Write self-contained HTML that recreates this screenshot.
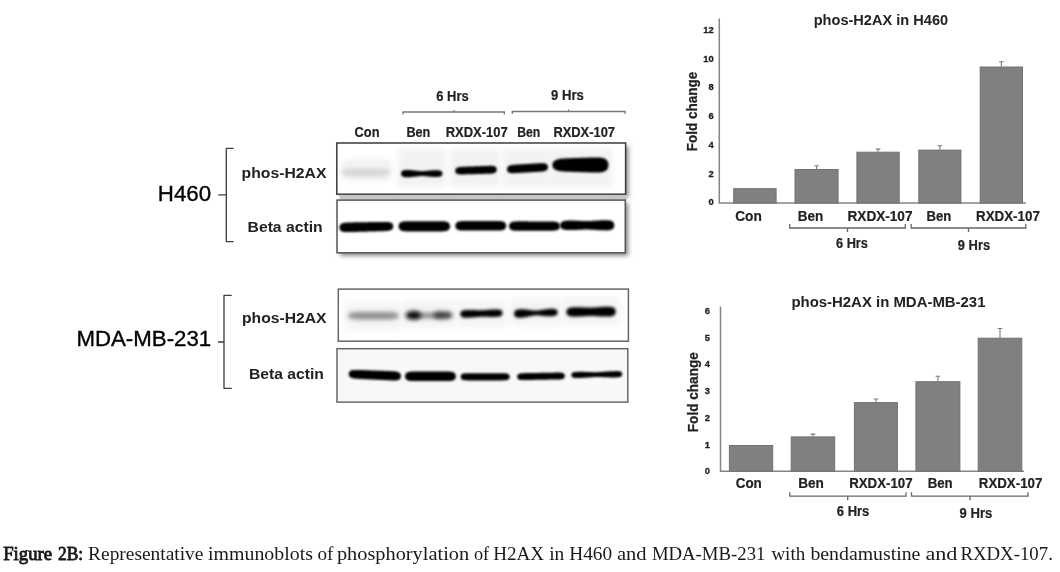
<!DOCTYPE html>
<html><head><meta charset="utf-8"><title>Figure 2B</title>
<style>
html,body{margin:0;padding:0;background:#fff;}
body{width:1060px;height:572px;overflow:hidden;position:relative;}
svg{position:absolute;left:0;top:0;opacity:0.999;filter:blur(0.35px);}
text{font-family:"Liberation Sans", sans-serif;}
.cap{position:absolute;left:4px;top:540px;white-space:nowrap;font-family:"Liberation Serif", serif;font-size:17.5px;color:#1a1a1a;}
</style></head><body>
<svg width="1060" height="572" viewBox="0 0 1060 572">
<text x="157.8" y="200.8" font-size="22.2" font-weight="normal" fill="#000" text-anchor="start" textLength="53.3" lengthAdjust="spacingAndGlyphs" stroke="#000" stroke-width="0.35">H460</text>
<text x="76.4" y="345.5" font-size="22.2" font-weight="normal" fill="#000" text-anchor="start" textLength="134.8" lengthAdjust="spacingAndGlyphs" stroke="#000" stroke-width="0.35">MDA-MB-231</text>
<path d="M233.60000000000002,148.3 H226.3 V241.6 H233.60000000000002 M218.3,194.8 H226.3" fill="none" stroke="#404040" stroke-width="1.35" stroke-linejoin="round"/>
<path d="M231.7,295.3 H224 V388.3 H231.7 M218,342 H224" fill="none" stroke="#404040" stroke-width="1.35" stroke-linejoin="round"/>
<text x="241.6" y="178.4" font-size="14.5" font-weight="bold" fill="#222" text-anchor="start" textLength="84.8" lengthAdjust="spacingAndGlyphs" >phos-H2AX</text>
<text x="247.6" y="231.6" font-size="14.5" font-weight="bold" fill="#222" text-anchor="start" textLength="75" lengthAdjust="spacingAndGlyphs" >Beta actin</text>
<text x="242" y="322.5" font-size="14.5" font-weight="bold" fill="#222" text-anchor="start" textLength="84.5" lengthAdjust="spacingAndGlyphs" >phos-H2AX</text>
<text x="249" y="378.6" font-size="14.5" font-weight="bold" fill="#222" text-anchor="start" textLength="74.8" lengthAdjust="spacingAndGlyphs" >Beta actin</text>
<text x="354.6" y="137.3" font-size="14" font-weight="bold" fill="#222" text-anchor="start" textLength="24.9" lengthAdjust="spacingAndGlyphs" stroke="#222" stroke-width="0.2">Con</text>
<text x="406.4" y="137.3" font-size="14" font-weight="bold" fill="#222" text-anchor="start" textLength="23.9" lengthAdjust="spacingAndGlyphs" stroke="#222" stroke-width="0.2">Ben</text>
<text x="445.7" y="137.3" font-size="14" font-weight="bold" fill="#222" text-anchor="start" textLength="62.1" lengthAdjust="spacingAndGlyphs" stroke="#222" stroke-width="0.2">RXDX-107</text>
<text x="517.2" y="137.3" font-size="14" font-weight="bold" fill="#222" text-anchor="start" textLength="23.1" lengthAdjust="spacingAndGlyphs" stroke="#222" stroke-width="0.2">Ben</text>
<text x="553.4" y="137.3" font-size="14" font-weight="bold" fill="#222" text-anchor="start" textLength="61.6" lengthAdjust="spacingAndGlyphs" stroke="#222" stroke-width="0.2">RXDX-107</text>
<text x="436.3" y="100.7" font-size="14" font-weight="bold" fill="#222" text-anchor="start" textLength="32.3" lengthAdjust="spacingAndGlyphs" stroke="#222" stroke-width="0.2">6 Hrs</text>
<text x="551.1" y="99.9" font-size="14" font-weight="bold" fill="#222" text-anchor="start" textLength="32.8" lengthAdjust="spacingAndGlyphs" stroke="#222" stroke-width="0.2">9 Hrs</text>
<path d="M403,114.5 V112 H504.3 V114.5 M454,112 V110" fill="none" stroke="#777" stroke-width="1.3"/>
<path d="M512.3,114.0 V111.5 H625.1 V114.0 M568.5,111.5 V109.5" fill="none" stroke="#777" stroke-width="1.3"/>
<defs>
<filter id="b1" x="-20%" y="-100%" width="140%" height="300%"><feGaussianBlur stdDeviation="1.1"/></filter>
<filter id="b15" x="-20%" y="-100%" width="140%" height="300%"><feGaussianBlur stdDeviation="1.5"/></filter>
<filter id="b2" x="-30%" y="-150%" width="160%" height="400%"><feGaussianBlur stdDeviation="2"/></filter>
<filter id="b05" x="-5%" y="-50%" width="110%" height="200%"><feGaussianBlur stdDeviation="0.5"/></filter>
<filter id="b3" x="-30%" y="-200%" width="160%" height="500%"><feGaussianBlur stdDeviation="3"/></filter>
<filter id="sh" x="-10%" y="-20%" width="130%" height="150%"><feGaussianBlur stdDeviation="2"/></filter>
</defs>
<rect x="339.8" y="146" width="288.8" height="51.19999999999999" fill="#8c8c8c" filter="url(#sh)"/>
<rect x="336.8" y="143" width="288.8" height="51.19999999999999" fill="#fff" stroke="#3a3a3a" stroke-width="1.5"/>
<rect x="398" y="149" width="48" height="38" fill="#f2f2f2" filter="url(#b3)"/>
<rect x="450" y="149" width="50" height="38" fill="#f2f2f2" filter="url(#b3)"/>
<rect x="503" y="149" width="48" height="38" fill="#f2f2f2" filter="url(#b3)"/>
<rect x="549" y="149" width="63" height="38" fill="#f2f2f2" filter="url(#b3)"/>
<rect x="342" y="159" width="50" height="22" rx="6" fill="#f3f3f3" filter="url(#b2)"/>
<path d="M341.4,172.30 L341.8,171.10 L342.2,170.63 L342.6,170.31 L343.0,170.05 L343.4,169.84 L343.8,169.66 L344.2,169.51 L344.6,169.38 L345.0,169.27 L345.4,169.18 L345.9,169.09 L346.3,169.02 L346.7,168.96 L347.1,168.90 L347.5,168.85 L347.9,168.81 L348.3,168.77 L348.7,168.74 L349.1,168.71 L349.5,168.69 L349.9,168.67 L350.3,168.65 L350.7,168.63 L351.1,168.62 L351.5,168.61 L351.9,168.60 L352.3,168.59 L352.7,168.58 L353.1,168.58 L353.5,168.57 L354.0,168.57 L354.4,168.56 L354.8,168.56 L355.2,168.56 L355.6,168.56 L356.0,168.55 L356.4,168.55 L356.8,168.55 L357.2,168.55 L357.6,168.55 L358.0,168.55 L358.4,168.55 L358.8,168.55 L359.2,168.55 L359.6,168.55 L360.0,168.55 L360.4,168.55 L360.8,168.55 L361.2,168.55 L361.6,168.55 L362.1,168.55 L362.5,168.55 L362.9,168.55 L363.3,168.55 L363.7,168.55 L364.1,168.55 L364.5,168.55 L364.9,168.55 L365.3,168.55 L365.7,168.55 L366.1,168.55 L366.5,168.55 L366.9,168.55 L367.3,168.55 L367.7,168.55 L368.1,168.55 L368.5,168.55 L368.9,168.55 L369.3,168.55 L369.8,168.55 L370.2,168.55 L370.6,168.55 L371.0,168.55 L371.4,168.55 L371.8,168.55 L372.2,168.55 L372.6,168.55 L373.0,168.55 L373.4,168.55 L373.8,168.55 L374.2,168.55 L374.6,168.55 L375.0,168.55 L375.4,168.55 L375.8,168.56 L376.2,168.56 L376.6,168.56 L377.0,168.56 L377.4,168.57 L377.9,168.57 L378.3,168.58 L378.7,168.58 L379.1,168.59 L379.5,168.60 L379.9,168.61 L380.3,168.62 L380.7,168.63 L381.1,168.65 L381.5,168.67 L381.9,168.69 L382.3,168.71 L382.7,168.74 L383.1,168.77 L383.5,168.81 L383.9,168.85 L384.3,168.90 L384.7,168.96 L385.1,169.02 L385.5,169.09 L385.9,169.18 L386.4,169.27 L386.8,169.38 L387.2,169.51 L387.6,169.66 L388.0,169.84 L388.4,170.05 L388.8,170.31 L389.2,170.63 L389.6,171.10 L390.0,172.30 L390.0,172.30 L389.6,173.50 L389.2,173.97 L388.8,174.29 L388.4,174.55 L388.0,174.76 L387.6,174.94 L387.2,175.09 L386.8,175.22 L386.4,175.33 L385.9,175.42 L385.5,175.51 L385.1,175.58 L384.7,175.64 L384.3,175.70 L383.9,175.75 L383.5,175.79 L383.1,175.83 L382.7,175.86 L382.3,175.89 L381.9,175.91 L381.5,175.93 L381.1,175.95 L380.7,175.97 L380.3,175.98 L379.9,175.99 L379.5,176.00 L379.1,176.01 L378.7,176.02 L378.3,176.02 L377.9,176.03 L377.4,176.03 L377.0,176.04 L376.6,176.04 L376.2,176.04 L375.8,176.04 L375.4,176.05 L375.0,176.05 L374.6,176.05 L374.2,176.05 L373.8,176.05 L373.4,176.05 L373.0,176.05 L372.6,176.05 L372.2,176.05 L371.8,176.05 L371.4,176.05 L371.0,176.05 L370.6,176.05 L370.2,176.05 L369.8,176.05 L369.3,176.05 L368.9,176.05 L368.5,176.05 L368.1,176.05 L367.7,176.05 L367.3,176.05 L366.9,176.05 L366.5,176.05 L366.1,176.05 L365.7,176.05 L365.3,176.05 L364.9,176.05 L364.5,176.05 L364.1,176.05 L363.7,176.05 L363.3,176.05 L362.9,176.05 L362.5,176.05 L362.1,176.05 L361.6,176.05 L361.2,176.05 L360.8,176.05 L360.4,176.05 L360.0,176.05 L359.6,176.05 L359.2,176.05 L358.8,176.05 L358.4,176.05 L358.0,176.05 L357.6,176.05 L357.2,176.05 L356.8,176.05 L356.4,176.05 L356.0,176.05 L355.6,176.04 L355.2,176.04 L354.8,176.04 L354.4,176.04 L354.0,176.03 L353.5,176.03 L353.1,176.02 L352.7,176.02 L352.3,176.01 L351.9,176.00 L351.5,175.99 L351.1,175.98 L350.7,175.97 L350.3,175.95 L349.9,175.93 L349.5,175.91 L349.1,175.89 L348.7,175.86 L348.3,175.83 L347.9,175.79 L347.5,175.75 L347.1,175.70 L346.7,175.64 L346.3,175.58 L345.9,175.51 L345.4,175.42 L345.0,175.33 L344.6,175.22 L344.2,175.09 L343.8,174.94 L343.4,174.76 L343.0,174.55 L342.6,174.29 L342.2,173.97 L341.8,173.50 L341.4,172.30Z" fill="#d6d6d6" filter="url(#b2)"/>
<path d="M401.0,173.60 L401.3,172.05 L401.7,171.49 L402.0,171.12 L402.4,170.85 L402.7,170.64 L403.1,170.48 L403.4,170.35 L403.8,170.25 L404.1,170.18 L404.5,170.11 L404.8,170.07 L405.1,170.03 L405.5,170.00 L405.8,169.98 L406.2,169.97 L406.5,169.96 L406.9,169.95 L407.2,169.95 L407.6,169.95 L407.9,169.96 L408.3,169.97 L408.6,169.98 L409.0,169.99 L409.3,170.01 L409.6,170.03 L410.0,170.04 L410.3,170.07 L410.7,170.09 L411.0,170.11 L411.4,170.14 L411.7,170.17 L412.1,170.20 L412.4,170.23 L412.8,170.27 L413.1,170.31 L413.4,170.34 L413.8,170.38 L414.1,170.42 L414.5,170.46 L414.8,170.51 L415.2,170.55 L415.5,170.60 L415.9,170.64 L416.2,170.68 L416.6,170.73 L416.9,170.77 L417.3,170.81 L417.6,170.86 L417.9,170.90 L418.3,170.93 L418.6,170.97 L419.0,171.00 L419.3,171.03 L419.7,171.06 L420.0,171.08 L420.4,171.11 L420.7,171.12 L421.1,171.14 L421.4,171.14 L421.8,171.15 L422.1,171.15 L422.4,171.15 L422.8,171.14 L423.1,171.13 L423.5,171.12 L423.8,171.10 L424.2,171.08 L424.5,171.06 L424.9,171.03 L425.2,171.00 L425.6,170.97 L425.9,170.94 L426.2,170.90 L426.6,170.86 L426.9,170.83 L427.3,170.79 L427.6,170.75 L428.0,170.72 L428.3,170.68 L428.7,170.64 L429.0,170.60 L429.4,170.57 L429.7,170.54 L430.1,170.50 L430.4,170.47 L430.7,170.44 L431.1,170.41 L431.4,170.39 L431.8,170.36 L432.1,170.34 L432.5,170.32 L432.8,170.30 L433.2,170.29 L433.5,170.27 L433.9,170.26 L434.2,170.25 L434.5,170.24 L434.9,170.23 L435.2,170.23 L435.6,170.23 L435.9,170.23 L436.3,170.23 L436.6,170.23 L437.0,170.24 L437.3,170.26 L437.7,170.28 L438.0,170.30 L438.4,170.33 L438.7,170.37 L439.0,170.42 L439.4,170.49 L439.7,170.56 L440.1,170.66 L440.4,170.78 L440.8,170.93 L441.1,171.12 L441.5,171.37 L441.8,171.71 L442.2,172.21 L442.5,173.60 L442.5,173.60 L442.2,174.99 L441.8,175.49 L441.5,175.83 L441.1,176.08 L440.8,176.27 L440.4,176.42 L440.1,176.54 L439.7,176.64 L439.4,176.71 L439.0,176.78 L438.7,176.83 L438.4,176.87 L438.0,176.90 L437.7,176.92 L437.3,176.94 L437.0,176.96 L436.6,176.97 L436.3,176.97 L435.9,176.97 L435.6,176.97 L435.2,176.97 L434.9,176.97 L434.5,176.96 L434.2,176.95 L433.9,176.94 L433.5,176.93 L433.2,176.91 L432.8,176.90 L432.5,176.88 L432.1,176.86 L431.8,176.84 L431.4,176.81 L431.1,176.79 L430.7,176.76 L430.4,176.73 L430.1,176.70 L429.7,176.66 L429.4,176.63 L429.0,176.60 L428.7,176.56 L428.3,176.52 L428.0,176.48 L427.6,176.45 L427.3,176.41 L426.9,176.37 L426.6,176.34 L426.2,176.30 L425.9,176.26 L425.6,176.23 L425.2,176.20 L424.9,176.17 L424.5,176.14 L424.2,176.12 L423.8,176.10 L423.5,176.08 L423.1,176.07 L422.8,176.06 L422.4,176.05 L422.1,176.05 L421.8,176.05 L421.4,176.06 L421.1,176.06 L420.7,176.08 L420.4,176.09 L420.0,176.12 L419.7,176.14 L419.3,176.17 L419.0,176.20 L418.6,176.23 L418.3,176.27 L417.9,176.30 L417.6,176.34 L417.3,176.39 L416.9,176.43 L416.6,176.47 L416.2,176.52 L415.9,176.56 L415.5,176.60 L415.2,176.65 L414.8,176.69 L414.5,176.74 L414.1,176.78 L413.8,176.82 L413.4,176.86 L413.1,176.89 L412.8,176.93 L412.4,176.97 L412.1,177.00 L411.7,177.03 L411.4,177.06 L411.0,177.09 L410.7,177.11 L410.3,177.13 L410.0,177.16 L409.6,177.17 L409.3,177.19 L409.0,177.21 L408.6,177.22 L408.3,177.23 L407.9,177.24 L407.6,177.25 L407.2,177.25 L406.9,177.25 L406.5,177.24 L406.2,177.23 L405.8,177.22 L405.5,177.20 L405.1,177.17 L404.8,177.13 L404.5,177.09 L404.1,177.02 L403.8,176.95 L403.4,176.85 L403.1,176.72 L402.7,176.56 L402.4,176.35 L402.0,176.08 L401.7,175.71 L401.3,175.15 L401.0,173.60Z" fill="#000" filter="url(#b1)"/>
<path d="M455.2,170.85 L455.5,169.32 L455.9,168.76 L456.2,168.37 L456.6,168.08 L456.9,167.86 L457.3,167.68 L457.6,167.53 L458.0,167.41 L458.3,167.31 L458.7,167.22 L459.0,167.15 L459.4,167.09 L459.7,167.04 L460.1,167.00 L460.4,166.96 L460.7,166.93 L461.1,166.90 L461.4,166.87 L461.8,166.85 L462.1,166.83 L462.5,166.81 L462.8,166.79 L463.2,166.78 L463.5,166.76 L463.9,166.74 L464.2,166.73 L464.6,166.72 L464.9,166.70 L465.3,166.69 L465.6,166.68 L465.9,166.66 L466.3,166.65 L466.6,166.64 L467.0,166.63 L467.3,166.61 L467.7,166.60 L468.0,166.59 L468.4,166.58 L468.7,166.56 L469.1,166.55 L469.4,166.54 L469.8,166.53 L470.1,166.51 L470.5,166.50 L470.8,166.49 L471.1,166.48 L471.5,166.46 L471.8,166.45 L472.2,166.44 L472.5,166.43 L472.9,166.41 L473.2,166.40 L473.6,166.39 L473.9,166.38 L474.3,166.36 L474.6,166.35 L475.0,166.34 L475.3,166.32 L475.7,166.31 L476.0,166.30 L476.3,166.29 L476.7,166.27 L477.0,166.26 L477.4,166.25 L477.7,166.24 L478.1,166.23 L478.4,166.21 L478.8,166.20 L479.1,166.19 L479.5,166.18 L479.8,166.16 L480.2,166.15 L480.5,166.14 L480.9,166.13 L481.2,166.11 L481.5,166.10 L481.9,166.09 L482.2,166.08 L482.6,166.06 L482.9,166.05 L483.3,166.04 L483.6,166.03 L484.0,166.01 L484.3,166.00 L484.7,165.99 L485.0,165.98 L485.4,165.96 L485.7,165.95 L486.1,165.94 L486.4,165.93 L486.7,165.91 L487.1,165.90 L487.4,165.89 L487.8,165.88 L488.1,165.87 L488.5,165.86 L488.8,165.85 L489.2,165.84 L489.5,165.84 L489.9,165.83 L490.2,165.83 L490.6,165.82 L490.9,165.83 L491.3,165.83 L491.6,165.84 L491.9,165.85 L492.3,165.87 L492.6,165.90 L493.0,165.94 L493.3,165.99 L493.7,166.05 L494.0,166.13 L494.4,166.23 L494.7,166.36 L495.1,166.52 L495.4,166.74 L495.8,167.01 L496.1,167.39 L496.5,167.96 L496.8,169.55 L496.8,169.55 L496.5,171.16 L496.1,171.75 L495.8,172.15 L495.4,172.45 L495.1,172.68 L494.7,172.87 L494.4,173.02 L494.0,173.14 L493.7,173.25 L493.3,173.33 L493.0,173.40 L492.6,173.46 L492.3,173.51 L491.9,173.55 L491.6,173.59 L491.3,173.62 L490.9,173.64 L490.6,173.67 L490.2,173.69 L489.9,173.70 L489.5,173.72 L489.2,173.73 L488.8,173.75 L488.5,173.76 L488.1,173.77 L487.8,173.78 L487.4,173.79 L487.1,173.80 L486.7,173.81 L486.4,173.82 L486.1,173.83 L485.7,173.84 L485.4,173.85 L485.0,173.86 L484.7,173.87 L484.3,173.88 L484.0,173.89 L483.6,173.90 L483.3,173.91 L482.9,173.92 L482.6,173.93 L482.2,173.93 L481.9,173.94 L481.5,173.95 L481.2,173.96 L480.9,173.97 L480.5,173.98 L480.2,173.99 L479.8,174.00 L479.5,174.01 L479.1,174.02 L478.8,174.03 L478.4,174.04 L478.1,174.04 L477.7,174.05 L477.4,174.06 L477.0,174.07 L476.7,174.08 L476.3,174.09 L476.0,174.10 L475.7,174.11 L475.3,174.12 L475.0,174.13 L474.6,174.14 L474.3,174.15 L473.9,174.15 L473.6,174.16 L473.2,174.17 L472.9,174.18 L472.5,174.19 L472.2,174.20 L471.8,174.21 L471.5,174.22 L471.1,174.23 L470.8,174.24 L470.5,174.25 L470.1,174.26 L469.8,174.26 L469.4,174.27 L469.1,174.28 L468.7,174.29 L468.4,174.30 L468.0,174.31 L467.7,174.32 L467.3,174.33 L467.0,174.34 L466.6,174.35 L466.3,174.36 L465.9,174.36 L465.6,174.37 L465.3,174.38 L464.9,174.39 L464.6,174.40 L464.2,174.41 L463.9,174.41 L463.5,174.42 L463.2,174.43 L462.8,174.43 L462.5,174.44 L462.1,174.44 L461.8,174.44 L461.4,174.44 L461.1,174.43 L460.7,174.43 L460.4,174.42 L460.1,174.40 L459.7,174.38 L459.4,174.35 L459.0,174.31 L458.7,174.26 L458.3,174.20 L458.0,174.12 L457.6,174.02 L457.3,173.89 L456.9,173.73 L456.6,173.53 L456.2,173.26 L455.9,172.90 L455.5,172.36 L455.2,170.85Z" fill="#000" filter="url(#b1)"/>
<path d="M507.0,169.35 L507.3,167.69 L507.7,167.07 L508.0,166.64 L508.4,166.31 L508.7,166.05 L509.1,165.84 L509.4,165.67 L509.7,165.52 L510.1,165.40 L510.4,165.29 L510.8,165.20 L511.1,165.12 L511.4,165.06 L511.8,165.00 L512.1,164.95 L512.5,164.90 L512.8,164.86 L513.1,164.82 L513.5,164.79 L513.8,164.76 L514.2,164.73 L514.5,164.70 L514.9,164.68 L515.2,164.66 L515.5,164.63 L515.9,164.61 L516.2,164.59 L516.6,164.57 L516.9,164.55 L517.2,164.53 L517.6,164.51 L517.9,164.49 L518.3,164.47 L518.6,164.45 L519.0,164.43 L519.3,164.41 L519.6,164.39 L520.0,164.37 L520.3,164.35 L520.7,164.33 L521.0,164.31 L521.4,164.30 L521.7,164.28 L522.0,164.26 L522.4,164.24 L522.7,164.22 L523.1,164.20 L523.4,164.18 L523.7,164.16 L524.1,164.14 L524.4,164.12 L524.8,164.10 L525.1,164.08 L525.5,164.07 L525.8,164.05 L526.1,164.03 L526.5,164.01 L526.8,163.99 L527.2,163.97 L527.5,163.95 L527.8,163.93 L528.2,163.91 L528.5,163.89 L528.9,163.87 L529.2,163.85 L529.5,163.84 L529.9,163.82 L530.2,163.80 L530.6,163.78 L530.9,163.76 L531.3,163.74 L531.6,163.72 L531.9,163.70 L532.3,163.68 L532.6,163.66 L533.0,163.64 L533.3,163.62 L533.6,163.61 L534.0,163.59 L534.3,163.57 L534.7,163.55 L535.0,163.53 L535.4,163.51 L535.7,163.49 L536.0,163.47 L536.4,163.45 L536.7,163.43 L537.1,163.41 L537.4,163.40 L537.8,163.38 L538.1,163.36 L538.4,163.34 L538.8,163.32 L539.1,163.31 L539.5,163.29 L539.8,163.28 L540.1,163.26 L540.5,163.25 L540.8,163.24 L541.2,163.23 L541.5,163.22 L541.9,163.21 L542.2,163.21 L542.5,163.21 L542.9,163.22 L543.2,163.24 L543.6,163.26 L543.9,163.28 L544.2,163.32 L544.6,163.37 L544.9,163.44 L545.3,163.53 L545.6,163.63 L546.0,163.77 L546.3,163.94 L546.6,164.16 L547.0,164.45 L547.3,164.84 L547.7,165.42 L548.0,167.05 L548.0,167.05 L547.7,168.71 L547.3,169.33 L547.0,169.76 L546.6,170.09 L546.3,170.35 L546.0,170.56 L545.6,170.73 L545.3,170.88 L544.9,171.00 L544.6,171.11 L544.2,171.20 L543.9,171.28 L543.6,171.34 L543.2,171.40 L542.9,171.45 L542.5,171.50 L542.2,171.54 L541.9,171.58 L541.5,171.61 L541.2,171.64 L540.8,171.67 L540.5,171.70 L540.1,171.72 L539.8,171.74 L539.5,171.77 L539.1,171.79 L538.8,171.81 L538.4,171.83 L538.1,171.85 L537.8,171.87 L537.4,171.89 L537.1,171.91 L536.7,171.93 L536.4,171.95 L536.0,171.97 L535.7,171.99 L535.4,172.01 L535.0,172.03 L534.7,172.05 L534.3,172.07 L534.0,172.09 L533.6,172.10 L533.3,172.12 L533.0,172.14 L532.6,172.16 L532.3,172.18 L531.9,172.20 L531.6,172.22 L531.3,172.24 L530.9,172.26 L530.6,172.28 L530.2,172.30 L529.9,172.32 L529.5,172.33 L529.2,172.35 L528.9,172.37 L528.5,172.39 L528.2,172.41 L527.8,172.43 L527.5,172.45 L527.2,172.47 L526.8,172.49 L526.5,172.51 L526.1,172.53 L525.8,172.55 L525.5,172.56 L525.1,172.58 L524.8,172.60 L524.4,172.62 L524.1,172.64 L523.7,172.66 L523.4,172.68 L523.1,172.70 L522.7,172.72 L522.4,172.74 L522.0,172.76 L521.7,172.78 L521.4,172.79 L521.0,172.81 L520.7,172.83 L520.3,172.85 L520.0,172.87 L519.6,172.89 L519.3,172.91 L519.0,172.93 L518.6,172.95 L518.3,172.97 L517.9,172.99 L517.6,173.00 L517.2,173.02 L516.9,173.04 L516.6,173.06 L516.2,173.08 L515.9,173.09 L515.5,173.11 L515.2,173.12 L514.9,173.14 L514.5,173.15 L514.2,173.16 L513.8,173.17 L513.5,173.18 L513.1,173.19 L512.8,173.19 L512.5,173.19 L512.1,173.18 L511.8,173.16 L511.4,173.14 L511.1,173.12 L510.8,173.08 L510.4,173.03 L510.1,172.96 L509.7,172.87 L509.4,172.77 L509.1,172.63 L508.7,172.46 L508.4,172.24 L508.0,171.95 L507.7,171.56 L507.3,170.98 L507.0,169.35Z" fill="#000" filter="url(#b1)"/>
<path d="M552.3,165.00 L552.8,162.91 L553.2,162.11 L553.7,161.54 L554.2,161.09 L554.6,160.72 L555.1,160.42 L555.6,160.16 L556.0,159.93 L556.5,159.74 L557.0,159.56 L557.5,159.42 L557.9,159.28 L558.4,159.17 L558.9,159.07 L559.3,158.98 L559.8,158.89 L560.3,158.82 L560.7,158.76 L561.2,158.70 L561.7,158.65 L562.1,158.60 L562.6,158.56 L563.1,158.53 L563.5,158.49 L564.0,158.46 L564.5,158.43 L564.9,158.41 L565.4,158.38 L565.9,158.36 L566.3,158.34 L566.8,158.32 L567.3,158.30 L567.8,158.28 L568.2,158.26 L568.7,158.25 L569.2,158.23 L569.6,158.21 L570.1,158.20 L570.6,158.18 L571.0,158.17 L571.5,158.15 L572.0,158.14 L572.4,158.12 L572.9,158.11 L573.4,158.09 L573.8,158.08 L574.3,158.06 L574.8,158.05 L575.2,158.04 L575.7,158.02 L576.2,158.01 L576.7,157.99 L577.1,157.98 L577.6,157.96 L578.1,157.95 L578.5,157.93 L579.0,157.92 L579.5,157.90 L579.9,157.89 L580.4,157.88 L580.9,157.86 L581.3,157.85 L581.8,157.83 L582.3,157.82 L582.7,157.80 L583.2,157.79 L583.7,157.77 L584.1,157.76 L584.6,157.74 L585.1,157.73 L585.6,157.71 L586.0,157.70 L586.5,157.69 L587.0,157.67 L587.4,157.66 L587.9,157.64 L588.4,157.63 L588.8,157.61 L589.3,157.60 L589.8,157.58 L590.2,157.57 L590.7,157.56 L591.2,157.54 L591.6,157.53 L592.1,157.52 L592.6,157.51 L593.0,157.50 L593.5,157.48 L594.0,157.47 L594.5,157.47 L594.9,157.46 L595.4,157.45 L595.9,157.45 L596.3,157.45 L596.8,157.45 L597.3,157.46 L597.7,157.46 L598.2,157.48 L598.7,157.50 L599.1,157.52 L599.6,157.55 L600.1,157.59 L600.5,157.63 L601.0,157.69 L601.5,157.75 L601.9,157.83 L602.4,157.93 L602.9,158.04 L603.3,158.17 L603.8,158.33 L604.3,158.51 L604.8,158.72 L605.2,158.98 L605.7,159.28 L606.2,159.64 L606.6,160.08 L607.1,160.62 L607.6,161.33 L608.0,162.34 L608.5,165.00 L608.5,165.00 L608.0,167.66 L607.6,168.67 L607.1,169.38 L606.6,169.92 L606.2,170.36 L605.7,170.72 L605.2,171.02 L604.8,171.28 L604.3,171.49 L603.8,171.67 L603.3,171.83 L602.9,171.96 L602.4,172.07 L601.9,172.17 L601.5,172.25 L601.0,172.31 L600.5,172.37 L600.1,172.41 L599.6,172.45 L599.1,172.48 L598.7,172.50 L598.2,172.52 L597.7,172.54 L597.3,172.54 L596.8,172.55 L596.3,172.55 L595.9,172.55 L595.4,172.55 L594.9,172.54 L594.5,172.53 L594.0,172.53 L593.5,172.52 L593.0,172.50 L592.6,172.49 L592.1,172.48 L591.6,172.47 L591.2,172.46 L590.7,172.44 L590.2,172.43 L589.8,172.42 L589.3,172.40 L588.8,172.39 L588.4,172.37 L587.9,172.36 L587.4,172.34 L587.0,172.33 L586.5,172.31 L586.0,172.30 L585.6,172.29 L585.1,172.27 L584.6,172.26 L584.1,172.24 L583.7,172.23 L583.2,172.21 L582.7,172.20 L582.3,172.18 L581.8,172.17 L581.3,172.15 L580.9,172.14 L580.4,172.12 L579.9,172.11 L579.5,172.10 L579.0,172.08 L578.5,172.07 L578.1,172.05 L577.6,172.04 L577.1,172.02 L576.7,172.01 L576.2,171.99 L575.7,171.98 L575.2,171.96 L574.8,171.95 L574.3,171.94 L573.8,171.92 L573.4,171.91 L572.9,171.89 L572.4,171.88 L572.0,171.86 L571.5,171.85 L571.0,171.83 L570.6,171.82 L570.1,171.80 L569.6,171.79 L569.2,171.77 L568.7,171.75 L568.2,171.74 L567.8,171.72 L567.3,171.70 L566.8,171.68 L566.3,171.66 L565.9,171.64 L565.4,171.62 L564.9,171.59 L564.5,171.57 L564.0,171.54 L563.5,171.51 L563.1,171.47 L562.6,171.44 L562.1,171.40 L561.7,171.35 L561.2,171.30 L560.7,171.24 L560.3,171.18 L559.8,171.11 L559.3,171.02 L558.9,170.93 L558.4,170.83 L557.9,170.72 L557.5,170.58 L557.0,170.44 L556.5,170.26 L556.0,170.07 L555.6,169.84 L555.1,169.58 L554.6,169.28 L554.2,168.91 L553.7,168.46 L553.2,167.89 L552.8,167.09 L552.3,165.00Z" fill="#000" filter="url(#b1)"/>
<rect x="340" y="194.9" width="287" height="4.6" fill="#c6c6c6" filter="url(#b05)"/>
<rect x="340" y="203.1" width="288.29999999999995" height="52.70000000000002" fill="#8c8c8c" filter="url(#sh)"/>
<rect x="337" y="200.1" width="288.29999999999995" height="52.70000000000002" fill="#fff" stroke="#555" stroke-width="1.5"/>
<path d="M339.4,227.50 L339.8,225.48 L340.3,224.75 L340.7,224.26 L341.2,223.89 L341.6,223.61 L342.1,223.39 L342.5,223.22 L343.0,223.07 L343.4,222.96 L343.9,222.86 L344.3,222.79 L344.8,222.72 L345.2,222.67 L345.7,222.63 L346.1,222.59 L346.6,222.56 L347.0,222.54 L347.5,222.51 L347.9,222.49 L348.4,222.48 L348.8,222.46 L349.3,222.45 L349.7,222.44 L350.2,222.43 L350.6,222.42 L351.1,222.41 L351.5,222.40 L352.0,222.39 L352.4,222.38 L352.9,222.38 L353.3,222.37 L353.8,222.36 L354.2,222.35 L354.7,222.35 L355.1,222.34 L355.6,222.33 L356.0,222.32 L356.5,222.32 L356.9,222.31 L357.4,222.30 L357.8,222.29 L358.3,222.29 L358.7,222.28 L359.2,222.27 L359.6,222.26 L360.1,222.26 L360.5,222.25 L361.0,222.24 L361.4,222.23 L361.9,222.23 L362.3,222.22 L362.8,222.21 L363.2,222.20 L363.7,222.20 L364.1,222.19 L364.6,222.18 L365.0,222.17 L365.5,222.17 L365.9,222.16 L366.4,222.15 L366.8,222.14 L367.2,222.13 L367.7,222.13 L368.1,222.12 L368.6,222.11 L369.0,222.11 L369.5,222.10 L369.9,222.09 L370.4,222.08 L370.8,222.08 L371.3,222.07 L371.7,222.06 L372.2,222.05 L372.6,222.05 L373.1,222.04 L373.5,222.03 L374.0,222.02 L374.4,222.02 L374.9,222.01 L375.3,222.00 L375.8,221.99 L376.2,221.99 L376.7,221.98 L377.1,221.97 L377.6,221.96 L378.0,221.96 L378.5,221.95 L378.9,221.94 L379.4,221.93 L379.8,221.93 L380.3,221.92 L380.7,221.91 L381.2,221.91 L381.6,221.90 L382.1,221.89 L382.5,221.89 L383.0,221.88 L383.4,221.88 L383.9,221.88 L384.3,221.88 L384.8,221.88 L385.2,221.88 L385.7,221.89 L386.1,221.90 L386.6,221.91 L387.0,221.93 L387.5,221.96 L387.9,221.99 L388.4,222.04 L388.8,222.10 L389.3,222.17 L389.7,222.27 L390.2,222.39 L390.6,222.54 L391.1,222.73 L391.5,222.98 L392.0,223.30 L392.4,223.75 L392.9,224.42 L393.3,226.30 L393.3,226.30 L392.9,228.20 L392.4,228.89 L392.0,229.36 L391.5,229.70 L391.1,229.97 L390.6,230.18 L390.2,230.35 L389.7,230.49 L389.3,230.61 L388.8,230.70 L388.4,230.78 L387.9,230.85 L387.5,230.90 L387.0,230.95 L386.6,230.99 L386.1,231.02 L385.7,231.05 L385.2,231.08 L384.8,231.10 L384.3,231.12 L383.9,231.14 L383.4,231.16 L383.0,231.18 L382.5,231.19 L382.1,231.21 L381.6,231.22 L381.2,231.23 L380.7,231.25 L380.3,231.26 L379.8,231.27 L379.4,231.29 L378.9,231.30 L378.5,231.31 L378.0,231.32 L377.6,231.34 L377.1,231.35 L376.7,231.36 L376.2,231.37 L375.8,231.39 L375.3,231.40 L374.9,231.41 L374.4,231.42 L374.0,231.44 L373.5,231.45 L373.1,231.46 L372.6,231.47 L372.2,231.49 L371.7,231.50 L371.3,231.51 L370.8,231.52 L370.4,231.54 L369.9,231.55 L369.5,231.56 L369.0,231.57 L368.6,231.59 L368.1,231.60 L367.7,231.61 L367.2,231.62 L366.8,231.64 L366.4,231.65 L365.9,231.66 L365.5,231.68 L365.0,231.69 L364.6,231.70 L364.1,231.71 L363.7,231.72 L363.2,231.74 L362.8,231.75 L362.3,231.76 L361.9,231.77 L361.4,231.79 L361.0,231.80 L360.5,231.81 L360.1,231.82 L359.6,231.84 L359.2,231.85 L358.7,231.86 L358.3,231.87 L357.8,231.89 L357.4,231.90 L356.9,231.91 L356.5,231.92 L356.0,231.94 L355.6,231.95 L355.1,231.96 L354.7,231.97 L354.2,231.99 L353.8,232.00 L353.3,232.01 L352.9,232.02 L352.4,232.04 L352.0,232.05 L351.5,232.06 L351.1,232.07 L350.6,232.08 L350.2,232.09 L349.7,232.10 L349.3,232.11 L348.8,232.12 L348.4,232.12 L347.9,232.13 L347.5,232.13 L347.0,232.12 L346.6,232.12 L346.1,232.11 L345.7,232.09 L345.2,232.07 L344.8,232.04 L344.3,231.99 L343.9,231.94 L343.4,231.86 L343.0,231.77 L342.5,231.64 L342.1,231.49 L341.6,231.29 L341.2,231.03 L340.7,230.68 L340.3,230.21 L339.8,229.50 L339.4,227.50Z" fill="#000" filter="url(#b1)"/>
<path d="M398.5,226.30 L398.9,224.27 L399.4,223.54 L399.8,223.04 L400.2,222.66 L400.6,222.37 L401.1,222.14 L401.5,221.96 L401.9,221.81 L402.4,221.68 L402.8,221.58 L403.2,221.50 L403.7,221.43 L404.1,221.38 L404.5,221.33 L404.9,221.30 L405.4,221.27 L405.8,221.24 L406.2,221.22 L406.7,221.21 L407.1,221.19 L407.5,221.18 L408.0,221.18 L408.4,221.17 L408.8,221.17 L409.2,221.16 L409.7,221.16 L410.1,221.16 L410.5,221.15 L411.0,221.15 L411.4,221.15 L411.8,221.15 L412.3,221.15 L412.7,221.15 L413.1,221.15 L413.6,221.15 L414.0,221.15 L414.4,221.15 L414.8,221.15 L415.3,221.15 L415.7,221.15 L416.1,221.15 L416.6,221.15 L417.0,221.15 L417.4,221.15 L417.9,221.15 L418.3,221.15 L418.7,221.15 L419.1,221.15 L419.6,221.15 L420.0,221.15 L420.4,221.15 L420.9,221.15 L421.3,221.15 L421.7,221.15 L422.2,221.15 L422.6,221.15 L423.0,221.15 L423.4,221.15 L423.9,221.15 L424.3,221.15 L424.7,221.15 L425.2,221.15 L425.6,221.15 L426.0,221.15 L426.4,221.15 L426.9,221.15 L427.3,221.15 L427.7,221.15 L428.2,221.15 L428.6,221.15 L429.0,221.15 L429.5,221.15 L429.9,221.15 L430.3,221.15 L430.8,221.15 L431.2,221.15 L431.6,221.15 L432.0,221.15 L432.5,221.15 L432.9,221.15 L433.3,221.15 L433.8,221.15 L434.2,221.15 L434.6,221.15 L435.1,221.15 L435.5,221.15 L435.9,221.15 L436.3,221.15 L436.8,221.15 L437.2,221.15 L437.6,221.15 L438.1,221.15 L438.5,221.16 L438.9,221.16 L439.4,221.16 L439.8,221.17 L440.2,221.17 L440.6,221.18 L441.1,221.18 L441.5,221.19 L441.9,221.21 L442.4,221.22 L442.8,221.24 L443.2,221.27 L443.7,221.30 L444.1,221.33 L444.5,221.38 L444.9,221.43 L445.4,221.50 L445.8,221.58 L446.2,221.68 L446.7,221.81 L447.1,221.96 L447.5,222.14 L448.0,222.37 L448.4,222.66 L448.8,223.04 L449.2,223.54 L449.7,224.27 L450.1,226.30 L450.1,226.30 L449.7,228.33 L449.2,229.06 L448.8,229.56 L448.4,229.94 L448.0,230.23 L447.5,230.46 L447.1,230.64 L446.7,230.79 L446.2,230.92 L445.8,231.02 L445.4,231.10 L444.9,231.17 L444.5,231.22 L444.1,231.27 L443.7,231.30 L443.2,231.33 L442.8,231.36 L442.4,231.38 L441.9,231.39 L441.5,231.41 L441.1,231.42 L440.6,231.42 L440.2,231.43 L439.8,231.43 L439.4,231.44 L438.9,231.44 L438.5,231.44 L438.1,231.45 L437.6,231.45 L437.2,231.45 L436.8,231.45 L436.3,231.45 L435.9,231.45 L435.5,231.45 L435.1,231.45 L434.6,231.45 L434.2,231.45 L433.8,231.45 L433.3,231.45 L432.9,231.45 L432.5,231.45 L432.0,231.45 L431.6,231.45 L431.2,231.45 L430.8,231.45 L430.3,231.45 L429.9,231.45 L429.5,231.45 L429.0,231.45 L428.6,231.45 L428.2,231.45 L427.7,231.45 L427.3,231.45 L426.9,231.45 L426.4,231.45 L426.0,231.45 L425.6,231.45 L425.2,231.45 L424.7,231.45 L424.3,231.45 L423.9,231.45 L423.4,231.45 L423.0,231.45 L422.6,231.45 L422.2,231.45 L421.7,231.45 L421.3,231.45 L420.9,231.45 L420.4,231.45 L420.0,231.45 L419.6,231.45 L419.1,231.45 L418.7,231.45 L418.3,231.45 L417.9,231.45 L417.4,231.45 L417.0,231.45 L416.6,231.45 L416.1,231.45 L415.7,231.45 L415.3,231.45 L414.8,231.45 L414.4,231.45 L414.0,231.45 L413.6,231.45 L413.1,231.45 L412.7,231.45 L412.3,231.45 L411.8,231.45 L411.4,231.45 L411.0,231.45 L410.5,231.45 L410.1,231.44 L409.7,231.44 L409.2,231.44 L408.8,231.43 L408.4,231.43 L408.0,231.42 L407.5,231.42 L407.1,231.41 L406.7,231.39 L406.2,231.38 L405.8,231.36 L405.4,231.33 L404.9,231.30 L404.5,231.27 L404.1,231.22 L403.7,231.17 L403.2,231.10 L402.8,231.02 L402.4,230.92 L401.9,230.79 L401.5,230.64 L401.1,230.46 L400.6,230.23 L400.2,229.94 L399.8,229.56 L399.4,229.06 L398.9,228.33 L398.5,226.30Z" fill="#000" filter="url(#b1)"/>
<path d="M455.3,225.80 L455.7,223.86 L456.1,223.16 L456.6,222.69 L457.0,222.34 L457.4,222.07 L457.8,221.86 L458.3,221.69 L458.7,221.56 L459.1,221.45 L459.5,221.36 L460.0,221.29 L460.4,221.23 L460.8,221.18 L461.2,221.15 L461.7,221.11 L462.1,221.09 L462.5,221.07 L462.9,221.05 L463.4,221.04 L463.8,221.03 L464.2,221.02 L464.6,221.02 L465.1,221.01 L465.5,221.01 L465.9,221.01 L466.3,221.01 L466.8,221.00 L467.2,221.00 L467.6,221.00 L468.0,221.00 L468.4,221.00 L468.9,221.00 L469.3,221.00 L469.7,221.00 L470.1,221.00 L470.6,221.00 L471.0,221.00 L471.4,221.00 L471.8,221.00 L472.3,221.00 L472.7,221.00 L473.1,221.00 L473.5,221.00 L474.0,221.00 L474.4,221.00 L474.8,221.00 L475.2,221.00 L475.7,221.00 L476.1,221.00 L476.5,221.00 L476.9,221.00 L477.4,221.00 L477.8,221.00 L478.2,221.00 L478.6,221.00 L479.1,221.00 L479.5,221.00 L479.9,221.00 L480.3,221.00 L480.8,221.00 L481.2,221.00 L481.6,221.00 L482.0,221.00 L482.4,221.00 L482.9,221.00 L483.3,221.00 L483.7,221.00 L484.1,221.00 L484.6,221.00 L485.0,221.00 L485.4,221.00 L485.8,221.00 L486.3,221.00 L486.7,221.00 L487.1,221.00 L487.5,221.00 L488.0,221.00 L488.4,221.00 L488.8,221.00 L489.2,221.00 L489.7,221.00 L490.1,221.00 L490.5,221.00 L490.9,221.00 L491.4,221.00 L491.8,221.00 L492.2,221.00 L492.6,221.00 L493.1,221.00 L493.5,221.00 L493.9,221.00 L494.3,221.00 L494.7,221.00 L495.2,221.01 L495.6,221.01 L496.0,221.01 L496.4,221.01 L496.9,221.02 L497.3,221.02 L497.7,221.03 L498.1,221.04 L498.6,221.05 L499.0,221.07 L499.4,221.09 L499.8,221.11 L500.3,221.15 L500.7,221.18 L501.1,221.23 L501.5,221.29 L502.0,221.36 L502.4,221.45 L502.8,221.56 L503.2,221.69 L503.7,221.86 L504.1,222.07 L504.5,222.34 L504.9,222.69 L505.4,223.16 L505.8,223.86 L506.2,225.80 L506.2,225.80 L505.8,227.74 L505.4,228.44 L504.9,228.91 L504.5,229.26 L504.1,229.53 L503.7,229.74 L503.2,229.91 L502.8,230.04 L502.4,230.15 L502.0,230.24 L501.5,230.31 L501.1,230.37 L500.7,230.42 L500.3,230.45 L499.8,230.49 L499.4,230.51 L499.0,230.53 L498.6,230.55 L498.1,230.56 L497.7,230.57 L497.3,230.58 L496.9,230.58 L496.4,230.59 L496.0,230.59 L495.6,230.59 L495.2,230.59 L494.7,230.60 L494.3,230.60 L493.9,230.60 L493.5,230.60 L493.1,230.60 L492.6,230.60 L492.2,230.60 L491.8,230.60 L491.4,230.60 L490.9,230.60 L490.5,230.60 L490.1,230.60 L489.7,230.60 L489.2,230.60 L488.8,230.60 L488.4,230.60 L488.0,230.60 L487.5,230.60 L487.1,230.60 L486.7,230.60 L486.3,230.60 L485.8,230.60 L485.4,230.60 L485.0,230.60 L484.6,230.60 L484.1,230.60 L483.7,230.60 L483.3,230.60 L482.9,230.60 L482.4,230.60 L482.0,230.60 L481.6,230.60 L481.2,230.60 L480.8,230.60 L480.3,230.60 L479.9,230.60 L479.5,230.60 L479.1,230.60 L478.6,230.60 L478.2,230.60 L477.8,230.60 L477.4,230.60 L476.9,230.60 L476.5,230.60 L476.1,230.60 L475.7,230.60 L475.2,230.60 L474.8,230.60 L474.4,230.60 L474.0,230.60 L473.5,230.60 L473.1,230.60 L472.7,230.60 L472.3,230.60 L471.8,230.60 L471.4,230.60 L471.0,230.60 L470.6,230.60 L470.1,230.60 L469.7,230.60 L469.3,230.60 L468.9,230.60 L468.4,230.60 L468.0,230.60 L467.6,230.60 L467.2,230.60 L466.8,230.60 L466.3,230.59 L465.9,230.59 L465.5,230.59 L465.1,230.59 L464.6,230.58 L464.2,230.58 L463.8,230.57 L463.4,230.56 L462.9,230.55 L462.5,230.53 L462.1,230.51 L461.7,230.49 L461.2,230.45 L460.8,230.42 L460.4,230.37 L460.0,230.31 L459.5,230.24 L459.1,230.15 L458.7,230.04 L458.3,229.91 L457.8,229.74 L457.4,229.53 L457.0,229.26 L456.6,228.91 L456.1,228.44 L455.7,227.74 L455.3,225.80Z" fill="#000" filter="url(#b1)"/>
<path d="M509.0,226.10 L509.4,224.16 L509.9,223.46 L510.3,222.99 L510.7,222.64 L511.1,222.38 L511.6,222.17 L512.0,222.00 L512.4,221.87 L512.8,221.76 L513.2,221.67 L513.7,221.60 L514.1,221.55 L514.5,221.50 L515.0,221.47 L515.4,221.44 L515.8,221.42 L516.2,221.40 L516.6,221.38 L517.1,221.37 L517.5,221.37 L517.9,221.36 L518.4,221.36 L518.8,221.35 L519.2,221.35 L519.6,221.35 L520.0,221.35 L520.5,221.35 L520.9,221.35 L521.3,221.35 L521.8,221.35 L522.2,221.35 L522.6,221.35 L523.0,221.36 L523.5,221.36 L523.9,221.36 L524.3,221.36 L524.7,221.36 L525.1,221.36 L525.6,221.37 L526.0,221.37 L526.4,221.37 L526.9,221.37 L527.3,221.37 L527.7,221.37 L528.1,221.38 L528.5,221.38 L529.0,221.38 L529.4,221.38 L529.8,221.38 L530.2,221.38 L530.7,221.39 L531.1,221.39 L531.5,221.39 L532.0,221.39 L532.4,221.39 L532.8,221.39 L533.2,221.40 L533.6,221.40 L534.1,221.40 L534.5,221.40 L534.9,221.40 L535.4,221.40 L535.8,221.41 L536.2,221.41 L536.6,221.41 L537.0,221.41 L537.5,221.41 L537.9,221.41 L538.3,221.42 L538.8,221.42 L539.2,221.42 L539.6,221.42 L540.0,221.42 L540.5,221.42 L540.9,221.43 L541.3,221.43 L541.7,221.43 L542.1,221.43 L542.6,221.43 L543.0,221.43 L543.4,221.44 L543.9,221.44 L544.3,221.44 L544.7,221.44 L545.1,221.44 L545.5,221.44 L546.0,221.45 L546.4,221.45 L546.8,221.45 L547.2,221.45 L547.7,221.45 L548.1,221.46 L548.5,221.46 L549.0,221.46 L549.4,221.47 L549.8,221.47 L550.2,221.48 L550.6,221.48 L551.1,221.49 L551.5,221.50 L551.9,221.51 L552.4,221.52 L552.8,221.54 L553.2,221.56 L553.6,221.59 L554.0,221.62 L554.5,221.65 L554.9,221.70 L555.3,221.76 L555.8,221.83 L556.2,221.92 L556.6,222.02 L557.0,222.15 L557.5,222.32 L557.9,222.52 L558.3,222.78 L558.7,223.12 L559.1,223.57 L559.6,224.24 L560.0,226.10 L560.0,226.10 L559.6,227.96 L559.1,228.63 L558.7,229.08 L558.3,229.42 L557.9,229.68 L557.5,229.88 L557.0,230.05 L556.6,230.18 L556.2,230.28 L555.8,230.37 L555.3,230.44 L554.9,230.50 L554.5,230.55 L554.0,230.58 L553.6,230.61 L553.2,230.64 L552.8,230.66 L552.4,230.68 L551.9,230.69 L551.5,230.70 L551.1,230.71 L550.6,230.72 L550.2,230.72 L549.8,230.73 L549.4,230.73 L549.0,230.74 L548.5,230.74 L548.1,230.74 L547.7,230.75 L547.2,230.75 L546.8,230.75 L546.4,230.75 L546.0,230.75 L545.5,230.76 L545.1,230.76 L544.7,230.76 L544.3,230.76 L543.9,230.76 L543.4,230.76 L543.0,230.77 L542.6,230.77 L542.1,230.77 L541.7,230.77 L541.3,230.77 L540.9,230.77 L540.5,230.78 L540.0,230.78 L539.6,230.78 L539.2,230.78 L538.8,230.78 L538.3,230.78 L537.9,230.79 L537.5,230.79 L537.0,230.79 L536.6,230.79 L536.2,230.79 L535.8,230.79 L535.4,230.80 L534.9,230.80 L534.5,230.80 L534.1,230.80 L533.6,230.80 L533.2,230.80 L532.8,230.81 L532.4,230.81 L532.0,230.81 L531.5,230.81 L531.1,230.81 L530.7,230.81 L530.2,230.82 L529.8,230.82 L529.4,230.82 L529.0,230.82 L528.5,230.82 L528.1,230.82 L527.7,230.83 L527.3,230.83 L526.9,230.83 L526.4,230.83 L526.0,230.83 L525.6,230.83 L525.1,230.84 L524.7,230.84 L524.3,230.84 L523.9,230.84 L523.5,230.84 L523.0,230.84 L522.6,230.85 L522.2,230.85 L521.8,230.85 L521.3,230.85 L520.9,230.85 L520.5,230.85 L520.0,230.85 L519.6,230.85 L519.2,230.85 L518.8,230.85 L518.4,230.84 L517.9,230.84 L517.5,230.83 L517.1,230.83 L516.6,230.82 L516.2,230.80 L515.8,230.78 L515.4,230.76 L515.0,230.73 L514.5,230.70 L514.1,230.65 L513.7,230.60 L513.2,230.53 L512.8,230.44 L512.4,230.33 L512.0,230.20 L511.6,230.03 L511.1,229.82 L510.7,229.56 L510.3,229.21 L509.9,228.74 L509.4,228.04 L509.0,226.10Z" fill="#000" filter="url(#b1)"/>
<path d="M560.0,225.30 L560.5,223.40 L560.9,222.71 L561.4,222.24 L561.8,221.90 L562.3,221.63 L562.7,221.41 L563.2,221.24 L563.6,221.10 L564.1,220.99 L564.5,220.89 L565.0,220.82 L565.4,220.76 L565.9,220.71 L566.3,220.67 L566.8,220.63 L567.3,220.61 L567.7,220.59 L568.2,220.57 L568.6,220.56 L569.1,220.55 L569.5,220.54 L570.0,220.54 L570.4,220.54 L570.9,220.54 L571.3,220.54 L571.8,220.55 L572.2,220.56 L572.7,220.56 L573.1,220.57 L573.6,220.58 L574.1,220.60 L574.5,220.61 L575.0,220.62 L575.4,220.64 L575.9,220.66 L576.3,220.68 L576.8,220.70 L577.2,220.72 L577.7,220.74 L578.1,220.76 L578.6,220.78 L579.0,220.80 L579.5,220.82 L579.9,220.85 L580.4,220.87 L580.9,220.89 L581.3,220.91 L581.8,220.93 L582.2,220.95 L582.7,220.97 L583.1,220.99 L583.6,221.00 L584.0,221.02 L584.5,221.03 L584.9,221.04 L585.4,221.05 L585.8,221.05 L586.3,221.05 L586.7,221.05 L587.2,221.05 L587.7,221.04 L588.1,221.04 L588.6,221.03 L589.0,221.01 L589.5,221.00 L589.9,220.98 L590.4,220.96 L590.8,220.94 L591.3,220.91 L591.7,220.89 L592.2,220.86 L592.6,220.83 L593.1,220.81 L593.5,220.78 L594.0,220.74 L594.5,220.71 L594.9,220.68 L595.4,220.65 L595.8,220.62 L596.3,220.59 L596.7,220.56 L597.2,220.53 L597.6,220.50 L598.1,220.48 L598.5,220.45 L599.0,220.42 L599.4,220.40 L599.9,220.38 L600.3,220.35 L600.8,220.33 L601.3,220.31 L601.7,220.30 L602.2,220.28 L602.6,220.27 L603.1,220.25 L603.5,220.24 L604.0,220.23 L604.4,220.23 L604.9,220.22 L605.3,220.22 L605.8,220.22 L606.2,220.22 L606.7,220.23 L607.1,220.25 L607.6,220.27 L608.1,220.29 L608.5,220.33 L609.0,220.38 L609.4,220.44 L609.9,220.51 L610.3,220.60 L610.8,220.72 L611.2,220.86 L611.7,221.05 L612.1,221.27 L612.6,221.56 L613.0,221.94 L613.5,222.45 L613.9,223.20 L614.4,225.30 L614.4,225.30 L613.9,227.40 L613.5,228.15 L613.0,228.66 L612.6,229.04 L612.1,229.33 L611.7,229.55 L611.2,229.74 L610.8,229.88 L610.3,230.00 L609.9,230.09 L609.4,230.16 L609.0,230.22 L608.5,230.27 L608.1,230.31 L607.6,230.33 L607.1,230.35 L606.7,230.37 L606.2,230.38 L605.8,230.38 L605.3,230.38 L604.9,230.38 L604.4,230.37 L604.0,230.37 L603.5,230.36 L603.1,230.35 L602.6,230.33 L602.2,230.32 L601.7,230.30 L601.3,230.29 L600.8,230.27 L600.3,230.25 L599.9,230.22 L599.4,230.20 L599.0,230.18 L598.5,230.15 L598.1,230.12 L597.6,230.10 L597.2,230.07 L596.7,230.04 L596.3,230.01 L595.8,229.98 L595.4,229.95 L594.9,229.92 L594.5,229.89 L594.0,229.86 L593.5,229.82 L593.1,229.79 L592.6,229.77 L592.2,229.74 L591.7,229.71 L591.3,229.69 L590.8,229.66 L590.4,229.64 L589.9,229.62 L589.5,229.60 L589.0,229.59 L588.6,229.57 L588.1,229.56 L587.7,229.56 L587.2,229.55 L586.7,229.55 L586.3,229.55 L585.8,229.55 L585.4,229.55 L584.9,229.56 L584.5,229.57 L584.0,229.58 L583.6,229.60 L583.1,229.61 L582.7,229.63 L582.2,229.65 L581.8,229.67 L581.3,229.69 L580.9,229.71 L580.4,229.73 L579.9,229.75 L579.5,229.78 L579.0,229.80 L578.6,229.82 L578.1,229.84 L577.7,229.86 L577.2,229.88 L576.8,229.90 L576.3,229.92 L575.9,229.94 L575.4,229.96 L575.0,229.98 L574.5,229.99 L574.1,230.00 L573.6,230.02 L573.1,230.03 L572.7,230.04 L572.2,230.04 L571.8,230.05 L571.3,230.06 L570.9,230.06 L570.4,230.06 L570.0,230.06 L569.5,230.06 L569.1,230.05 L568.6,230.04 L568.2,230.03 L567.7,230.01 L567.3,229.99 L566.8,229.97 L566.3,229.93 L565.9,229.89 L565.4,229.84 L565.0,229.78 L564.5,229.71 L564.1,229.61 L563.6,229.50 L563.2,229.36 L562.7,229.19 L562.3,228.97 L561.8,228.70 L561.4,228.36 L560.9,227.89 L560.5,227.20 L560.0,225.30Z" fill="#000" filter="url(#b1)"/>
<rect x="338.3" y="289.1" width="290.09999999999997" height="52.099999999999966" fill="#fff" stroke="#666" stroke-width="1.5"/>
<rect x="344" y="302" width="59" height="28" rx="5" fill="#f4f4f4" filter="url(#b3)"/>
<rect x="402" y="300" width="54" height="28" rx="5" fill="#f4f4f4" filter="url(#b3)"/>
<rect x="456" y="300" width="51" height="28" rx="5" fill="#f4f4f4" filter="url(#b3)"/>
<rect x="509" y="298" width="53" height="28" rx="5" fill="#f4f4f4" filter="url(#b3)"/>
<rect x="562" y="297" width="58" height="28" rx="5" fill="#f4f4f4" filter="url(#b3)"/>
<path d="M348.0,315.70 L348.4,314.47 L348.9,314.00 L349.3,313.67 L349.7,313.41 L350.1,313.19 L350.6,313.02 L351.0,312.87 L351.4,312.74 L351.8,312.63 L352.2,312.54 L352.7,312.46 L353.1,312.39 L353.5,312.33 L353.9,312.27 L354.4,312.23 L354.8,312.18 L355.2,312.15 L355.6,312.12 L356.1,312.09 L356.5,312.07 L356.9,312.05 L357.4,312.03 L357.8,312.02 L358.2,312.01 L358.6,312.00 L359.1,311.99 L359.5,311.98 L359.9,311.98 L360.3,311.97 L360.8,311.97 L361.2,311.96 L361.6,311.96 L362.0,311.96 L362.4,311.96 L362.9,311.95 L363.3,311.95 L363.7,311.95 L364.1,311.95 L364.6,311.95 L365.0,311.95 L365.4,311.95 L365.9,311.95 L366.3,311.95 L366.7,311.95 L367.1,311.95 L367.6,311.95 L368.0,311.95 L368.4,311.95 L368.8,311.95 L369.2,311.95 L369.7,311.95 L370.1,311.95 L370.5,311.95 L370.9,311.95 L371.4,311.95 L371.8,311.95 L372.2,311.95 L372.6,311.95 L373.1,311.95 L373.5,311.95 L373.9,311.95 L374.4,311.95 L374.8,311.95 L375.2,311.95 L375.6,311.95 L376.1,311.95 L376.5,311.95 L376.9,311.95 L377.3,311.95 L377.8,311.95 L378.2,311.95 L378.6,311.95 L379.0,311.95 L379.4,311.95 L379.9,311.95 L380.3,311.95 L380.7,311.95 L381.1,311.95 L381.6,311.95 L382.0,311.95 L382.4,311.95 L382.9,311.95 L383.3,311.95 L383.7,311.95 L384.1,311.95 L384.6,311.96 L385.0,311.96 L385.4,311.96 L385.8,311.96 L386.2,311.97 L386.7,311.97 L387.1,311.98 L387.5,311.98 L387.9,311.99 L388.4,312.00 L388.8,312.01 L389.2,312.02 L389.6,312.03 L390.1,312.05 L390.5,312.07 L390.9,312.09 L391.4,312.12 L391.8,312.15 L392.2,312.18 L392.6,312.23 L393.1,312.27 L393.5,312.33 L393.9,312.39 L394.3,312.46 L394.8,312.54 L395.2,312.63 L395.6,312.74 L396.0,312.87 L396.4,313.02 L396.9,313.19 L397.3,313.41 L397.7,313.67 L398.1,314.00 L398.6,314.47 L399.0,315.70 L399.0,315.70 L398.6,316.93 L398.1,317.40 L397.7,317.73 L397.3,317.99 L396.9,318.21 L396.4,318.38 L396.0,318.53 L395.6,318.66 L395.2,318.77 L394.8,318.86 L394.3,318.94 L393.9,319.01 L393.5,319.07 L393.1,319.13 L392.6,319.17 L392.2,319.22 L391.8,319.25 L391.4,319.28 L390.9,319.31 L390.5,319.33 L390.1,319.35 L389.6,319.37 L389.2,319.38 L388.8,319.39 L388.4,319.40 L387.9,319.41 L387.5,319.42 L387.1,319.42 L386.7,319.43 L386.2,319.43 L385.8,319.44 L385.4,319.44 L385.0,319.44 L384.6,319.44 L384.1,319.45 L383.7,319.45 L383.3,319.45 L382.9,319.45 L382.4,319.45 L382.0,319.45 L381.6,319.45 L381.1,319.45 L380.7,319.45 L380.3,319.45 L379.9,319.45 L379.4,319.45 L379.0,319.45 L378.6,319.45 L378.2,319.45 L377.8,319.45 L377.3,319.45 L376.9,319.45 L376.5,319.45 L376.1,319.45 L375.6,319.45 L375.2,319.45 L374.8,319.45 L374.4,319.45 L373.9,319.45 L373.5,319.45 L373.1,319.45 L372.6,319.45 L372.2,319.45 L371.8,319.45 L371.4,319.45 L370.9,319.45 L370.5,319.45 L370.1,319.45 L369.7,319.45 L369.2,319.45 L368.8,319.45 L368.4,319.45 L368.0,319.45 L367.6,319.45 L367.1,319.45 L366.7,319.45 L366.3,319.45 L365.9,319.45 L365.4,319.45 L365.0,319.45 L364.6,319.45 L364.1,319.45 L363.7,319.45 L363.3,319.45 L362.9,319.45 L362.4,319.44 L362.0,319.44 L361.6,319.44 L361.2,319.44 L360.8,319.43 L360.3,319.43 L359.9,319.42 L359.5,319.42 L359.1,319.41 L358.6,319.40 L358.2,319.39 L357.8,319.38 L357.4,319.37 L356.9,319.35 L356.5,319.33 L356.1,319.31 L355.6,319.28 L355.2,319.25 L354.8,319.22 L354.4,319.17 L353.9,319.13 L353.5,319.07 L353.1,319.01 L352.7,318.94 L352.2,318.86 L351.8,318.77 L351.4,318.66 L351.0,318.53 L350.6,318.38 L350.1,318.21 L349.7,317.99 L349.3,317.73 L348.9,317.40 L348.4,316.93 L348.0,315.70Z" fill="#909090" filter="url(#b2)"/>
<path d="M412.0,315.50 L412.2,314.37 L412.5,313.97 L412.8,313.70 L413.0,313.50 L413.2,313.35 L413.5,313.23 L413.8,313.13 L414.0,313.06 L414.2,312.99 L414.5,312.95 L414.8,312.91 L415.0,312.87 L415.2,312.85 L415.5,312.83 L415.8,312.81 L416.0,312.80 L416.2,312.79 L416.5,312.78 L416.8,312.77 L417.0,312.77 L417.2,312.76 L417.5,312.76 L417.8,312.76 L418.0,312.76 L418.2,312.75 L418.5,312.75 L418.8,312.75 L419.0,312.75 L419.2,312.75 L419.5,312.75 L419.8,312.75 L420.0,312.75 L420.2,312.75 L420.5,312.75 L420.8,312.75 L421.0,312.75 L421.2,312.75 L421.5,312.75 L421.8,312.75 L422.0,312.75 L422.2,312.75 L422.5,312.75 L422.8,312.75 L423.0,312.75 L423.2,312.75 L423.5,312.75 L423.8,312.75 L424.0,312.75 L424.2,312.75 L424.5,312.75 L424.8,312.75 L425.0,312.75 L425.2,312.75 L425.5,312.75 L425.8,312.75 L426.0,312.75 L426.2,312.75 L426.5,312.75 L426.8,312.75 L427.0,312.75 L427.2,312.75 L427.5,312.75 L427.8,312.75 L428.0,312.75 L428.2,312.75 L428.5,312.75 L428.8,312.75 L429.0,312.75 L429.2,312.75 L429.5,312.75 L429.8,312.75 L430.0,312.75 L430.2,312.75 L430.5,312.75 L430.8,312.75 L431.0,312.75 L431.2,312.75 L431.5,312.75 L431.8,312.75 L432.0,312.75 L432.2,312.75 L432.5,312.75 L432.8,312.75 L433.0,312.75 L433.2,312.75 L433.5,312.75 L433.8,312.75 L434.0,312.75 L434.2,312.75 L434.5,312.75 L434.8,312.75 L435.0,312.75 L435.2,312.75 L435.5,312.75 L435.8,312.75 L436.0,312.76 L436.2,312.76 L436.5,312.76 L436.8,312.76 L437.0,312.77 L437.2,312.77 L437.5,312.78 L437.8,312.79 L438.0,312.80 L438.2,312.81 L438.5,312.83 L438.8,312.85 L439.0,312.87 L439.2,312.91 L439.5,312.95 L439.8,312.99 L440.0,313.06 L440.2,313.13 L440.5,313.23 L440.8,313.35 L441.0,313.50 L441.2,313.70 L441.5,313.97 L441.8,314.37 L442.0,315.50 L442.0,315.50 L441.8,316.63 L441.5,317.03 L441.2,317.30 L441.0,317.50 L440.8,317.65 L440.5,317.77 L440.2,317.87 L440.0,317.94 L439.8,318.01 L439.5,318.05 L439.2,318.09 L439.0,318.13 L438.8,318.15 L438.5,318.17 L438.2,318.19 L438.0,318.20 L437.8,318.21 L437.5,318.22 L437.2,318.23 L437.0,318.23 L436.8,318.24 L436.5,318.24 L436.2,318.24 L436.0,318.24 L435.8,318.25 L435.5,318.25 L435.2,318.25 L435.0,318.25 L434.8,318.25 L434.5,318.25 L434.2,318.25 L434.0,318.25 L433.8,318.25 L433.5,318.25 L433.2,318.25 L433.0,318.25 L432.8,318.25 L432.5,318.25 L432.2,318.25 L432.0,318.25 L431.8,318.25 L431.5,318.25 L431.2,318.25 L431.0,318.25 L430.8,318.25 L430.5,318.25 L430.2,318.25 L430.0,318.25 L429.8,318.25 L429.5,318.25 L429.2,318.25 L429.0,318.25 L428.8,318.25 L428.5,318.25 L428.2,318.25 L428.0,318.25 L427.8,318.25 L427.5,318.25 L427.2,318.25 L427.0,318.25 L426.8,318.25 L426.5,318.25 L426.2,318.25 L426.0,318.25 L425.8,318.25 L425.5,318.25 L425.2,318.25 L425.0,318.25 L424.8,318.25 L424.5,318.25 L424.2,318.25 L424.0,318.25 L423.8,318.25 L423.5,318.25 L423.2,318.25 L423.0,318.25 L422.8,318.25 L422.5,318.25 L422.2,318.25 L422.0,318.25 L421.8,318.25 L421.5,318.25 L421.2,318.25 L421.0,318.25 L420.8,318.25 L420.5,318.25 L420.2,318.25 L420.0,318.25 L419.8,318.25 L419.5,318.25 L419.2,318.25 L419.0,318.25 L418.8,318.25 L418.5,318.25 L418.2,318.25 L418.0,318.24 L417.8,318.24 L417.5,318.24 L417.2,318.24 L417.0,318.23 L416.8,318.23 L416.5,318.22 L416.2,318.21 L416.0,318.20 L415.8,318.19 L415.5,318.17 L415.2,318.15 L415.0,318.13 L414.8,318.09 L414.5,318.05 L414.2,318.01 L414.0,317.94 L413.8,317.87 L413.5,317.77 L413.2,317.65 L413.0,317.50 L412.8,317.30 L412.5,317.03 L412.2,316.63 L412.0,315.50Z" fill="#8a8a8a" filter="url(#b2)"/>
<path d="M405.6,315.30 L405.7,314.49 L405.9,314.17 L406.0,313.92 L406.1,313.71 L406.2,313.54 L406.4,313.38 L406.5,313.23 L406.6,313.10 L406.8,312.98 L406.9,312.87 L407.0,312.76 L407.1,312.67 L407.3,312.57 L407.4,312.48 L407.5,312.40 L407.7,312.32 L407.8,312.25 L407.9,312.18 L408.0,312.11 L408.2,312.05 L408.3,311.99 L408.4,311.93 L408.6,311.87 L408.7,311.82 L408.8,311.77 L408.9,311.72 L409.1,311.68 L409.2,311.63 L409.3,311.59 L409.5,311.55 L409.6,311.51 L409.7,311.48 L409.8,311.44 L410.0,311.41 L410.1,311.38 L410.2,311.35 L410.3,311.32 L410.5,311.30 L410.6,311.27 L410.7,311.25 L410.9,311.23 L411.0,311.21 L411.1,311.19 L411.2,311.17 L411.4,311.16 L411.5,311.14 L411.6,311.13 L411.8,311.11 L411.9,311.10 L412.0,311.09 L412.1,311.08 L412.3,311.08 L412.4,311.07 L412.5,311.06 L412.7,311.06 L412.8,311.06 L412.9,311.05 L413.0,311.05 L413.2,311.05 L413.3,311.05 L413.4,311.05 L413.6,311.05 L413.7,311.05 L413.8,311.06 L413.9,311.06 L414.1,311.06 L414.2,311.07 L414.3,311.08 L414.5,311.08 L414.6,311.09 L414.7,311.10 L414.8,311.11 L415.0,311.13 L415.1,311.14 L415.2,311.16 L415.4,311.17 L415.5,311.19 L415.6,311.21 L415.7,311.23 L415.9,311.25 L416.0,311.27 L416.1,311.30 L416.3,311.32 L416.4,311.35 L416.5,311.38 L416.6,311.41 L416.8,311.44 L416.9,311.48 L417.0,311.51 L417.1,311.55 L417.3,311.59 L417.4,311.63 L417.5,311.68 L417.7,311.72 L417.8,311.77 L417.9,311.82 L418.0,311.87 L418.2,311.93 L418.3,311.99 L418.4,312.05 L418.6,312.11 L418.7,312.18 L418.8,312.25 L418.9,312.32 L419.1,312.40 L419.2,312.48 L419.3,312.57 L419.5,312.67 L419.6,312.76 L419.7,312.87 L419.8,312.98 L420.0,313.10 L420.1,313.23 L420.2,313.38 L420.4,313.54 L420.5,313.71 L420.6,313.92 L420.7,314.17 L420.9,314.49 L421.0,315.30 L421.0,315.30 L420.9,316.11 L420.7,316.43 L420.6,316.68 L420.5,316.89 L420.4,317.06 L420.2,317.22 L420.1,317.37 L420.0,317.50 L419.8,317.62 L419.7,317.73 L419.6,317.84 L419.5,317.93 L419.3,318.03 L419.2,318.12 L419.1,318.20 L418.9,318.28 L418.8,318.35 L418.7,318.42 L418.6,318.49 L418.4,318.55 L418.3,318.61 L418.2,318.67 L418.0,318.73 L417.9,318.78 L417.8,318.83 L417.7,318.88 L417.5,318.92 L417.4,318.97 L417.3,319.01 L417.1,319.05 L417.0,319.09 L416.9,319.12 L416.8,319.16 L416.6,319.19 L416.5,319.22 L416.4,319.25 L416.3,319.28 L416.1,319.30 L416.0,319.33 L415.9,319.35 L415.7,319.37 L415.6,319.39 L415.5,319.41 L415.4,319.43 L415.2,319.44 L415.1,319.46 L415.0,319.47 L414.8,319.49 L414.7,319.50 L414.6,319.51 L414.5,319.52 L414.3,319.52 L414.2,319.53 L414.1,319.54 L413.9,319.54 L413.8,319.54 L413.7,319.55 L413.6,319.55 L413.4,319.55 L413.3,319.55 L413.2,319.55 L413.0,319.55 L412.9,319.55 L412.8,319.54 L412.7,319.54 L412.5,319.54 L412.4,319.53 L412.3,319.52 L412.1,319.52 L412.0,319.51 L411.9,319.50 L411.8,319.49 L411.6,319.47 L411.5,319.46 L411.4,319.44 L411.2,319.43 L411.1,319.41 L411.0,319.39 L410.9,319.37 L410.7,319.35 L410.6,319.33 L410.5,319.30 L410.3,319.28 L410.2,319.25 L410.1,319.22 L410.0,319.19 L409.8,319.16 L409.7,319.12 L409.6,319.09 L409.5,319.05 L409.3,319.01 L409.2,318.97 L409.1,318.92 L408.9,318.88 L408.8,318.83 L408.7,318.78 L408.6,318.73 L408.4,318.67 L408.3,318.61 L408.2,318.55 L408.0,318.49 L407.9,318.42 L407.8,318.35 L407.7,318.28 L407.5,318.20 L407.4,318.12 L407.3,318.03 L407.1,317.93 L407.0,317.84 L406.9,317.73 L406.8,317.62 L406.6,317.50 L406.5,317.37 L406.4,317.22 L406.2,317.06 L406.1,316.89 L406.0,316.68 L405.9,316.43 L405.7,316.11 L405.6,315.30Z" fill="#111" filter="url(#b2)"/>
<path d="M433.5,315.20 L433.7,314.36 L433.8,314.03 L434.0,313.78 L434.1,313.57 L434.3,313.39 L434.4,313.24 L434.6,313.10 L434.8,312.97 L434.9,312.86 L435.1,312.75 L435.2,312.66 L435.4,312.57 L435.6,312.49 L435.7,312.41 L435.9,312.34 L436.0,312.27 L436.2,312.21 L436.4,312.15 L436.5,312.09 L436.7,312.04 L436.8,312.00 L437.0,311.95 L437.1,311.91 L437.3,311.87 L437.5,311.83 L437.6,311.80 L437.8,311.77 L437.9,311.74 L438.1,311.71 L438.2,311.69 L438.4,311.66 L438.6,311.64 L438.7,311.62 L438.9,311.60 L439.0,311.58 L439.2,311.57 L439.4,311.55 L439.5,311.54 L439.7,311.53 L439.8,311.52 L440.0,311.51 L440.1,311.50 L440.3,311.49 L440.5,311.48 L440.6,311.48 L440.8,311.47 L440.9,311.47 L441.1,311.46 L441.3,311.46 L441.4,311.46 L441.6,311.46 L441.7,311.45 L441.9,311.45 L442.1,311.45 L442.2,311.45 L442.4,311.45 L442.5,311.45 L442.7,311.45 L442.8,311.45 L443.0,311.45 L443.2,311.45 L443.3,311.45 L443.5,311.45 L443.6,311.45 L443.8,311.45 L443.9,311.45 L444.1,311.45 L444.3,311.45 L444.4,311.46 L444.6,311.46 L444.7,311.46 L444.9,311.46 L445.1,311.47 L445.2,311.47 L445.4,311.48 L445.5,311.48 L445.7,311.49 L445.9,311.50 L446.0,311.51 L446.2,311.52 L446.3,311.53 L446.5,311.54 L446.6,311.55 L446.8,311.57 L447.0,311.58 L447.1,311.60 L447.3,311.62 L447.4,311.64 L447.6,311.66 L447.8,311.69 L447.9,311.71 L448.1,311.74 L448.2,311.77 L448.4,311.80 L448.5,311.83 L448.7,311.87 L448.9,311.91 L449.0,311.95 L449.2,312.00 L449.3,312.04 L449.5,312.09 L449.6,312.15 L449.8,312.21 L450.0,312.27 L450.1,312.34 L450.3,312.41 L450.4,312.49 L450.6,312.57 L450.8,312.66 L450.9,312.75 L451.1,312.86 L451.2,312.97 L451.4,313.10 L451.6,313.24 L451.7,313.39 L451.9,313.57 L452.0,313.78 L452.2,314.03 L452.3,314.36 L452.5,315.20 L452.5,315.20 L452.3,316.04 L452.2,316.37 L452.0,316.62 L451.9,316.83 L451.7,317.01 L451.6,317.16 L451.4,317.30 L451.2,317.43 L451.1,317.54 L450.9,317.65 L450.8,317.74 L450.6,317.83 L450.4,317.91 L450.3,317.99 L450.1,318.06 L450.0,318.13 L449.8,318.19 L449.6,318.25 L449.5,318.31 L449.3,318.36 L449.2,318.40 L449.0,318.45 L448.9,318.49 L448.7,318.53 L448.5,318.57 L448.4,318.60 L448.2,318.63 L448.1,318.66 L447.9,318.69 L447.8,318.71 L447.6,318.74 L447.4,318.76 L447.3,318.78 L447.1,318.80 L447.0,318.82 L446.8,318.83 L446.6,318.85 L446.5,318.86 L446.3,318.87 L446.2,318.88 L446.0,318.89 L445.9,318.90 L445.7,318.91 L445.5,318.92 L445.4,318.92 L445.2,318.93 L445.1,318.93 L444.9,318.94 L444.7,318.94 L444.6,318.94 L444.4,318.94 L444.3,318.95 L444.1,318.95 L443.9,318.95 L443.8,318.95 L443.6,318.95 L443.5,318.95 L443.3,318.95 L443.2,318.95 L443.0,318.95 L442.8,318.95 L442.7,318.95 L442.5,318.95 L442.4,318.95 L442.2,318.95 L442.1,318.95 L441.9,318.95 L441.7,318.95 L441.6,318.94 L441.4,318.94 L441.3,318.94 L441.1,318.94 L440.9,318.93 L440.8,318.93 L440.6,318.92 L440.5,318.92 L440.3,318.91 L440.1,318.90 L440.0,318.89 L439.8,318.88 L439.7,318.87 L439.5,318.86 L439.4,318.85 L439.2,318.83 L439.0,318.82 L438.9,318.80 L438.7,318.78 L438.6,318.76 L438.4,318.74 L438.2,318.71 L438.1,318.69 L437.9,318.66 L437.8,318.63 L437.6,318.60 L437.5,318.57 L437.3,318.53 L437.1,318.49 L437.0,318.45 L436.8,318.40 L436.7,318.36 L436.5,318.31 L436.4,318.25 L436.2,318.19 L436.0,318.13 L435.9,318.06 L435.7,317.99 L435.6,317.91 L435.4,317.83 L435.2,317.74 L435.1,317.65 L434.9,317.54 L434.8,317.43 L434.6,317.30 L434.4,317.16 L434.3,317.01 L434.1,316.83 L434.0,316.62 L433.8,316.37 L433.7,316.04 L433.5,315.20Z" fill="#444" filter="url(#b2)"/>
<path d="M460.2,314.00 L460.6,312.38 L460.9,311.79 L461.3,311.39 L461.6,311.09 L462.0,310.86 L462.3,310.68 L462.7,310.54 L463.0,310.42 L463.4,310.32 L463.7,310.24 L464.1,310.18 L464.4,310.13 L464.8,310.08 L465.1,310.05 L465.5,310.02 L465.9,310.00 L466.2,309.98 L466.6,309.96 L466.9,309.95 L467.3,309.94 L467.6,309.93 L468.0,309.93 L468.3,309.92 L468.7,309.92 L469.0,309.92 L469.4,309.92 L469.7,309.93 L470.1,309.93 L470.4,309.93 L470.8,309.94 L471.2,309.95 L471.5,309.95 L471.9,309.96 L472.2,309.97 L472.6,309.98 L472.9,310.00 L473.3,310.01 L473.6,310.02 L474.0,310.04 L474.3,310.05 L474.7,310.06 L475.0,310.08 L475.4,310.09 L475.7,310.11 L476.1,310.12 L476.5,310.14 L476.8,310.15 L477.2,310.17 L477.5,310.18 L477.9,310.19 L478.2,310.20 L478.6,310.21 L478.9,310.22 L479.3,310.23 L479.6,310.23 L480.0,310.23 L480.3,310.23 L480.7,310.23 L481.0,310.23 L481.4,310.23 L481.8,310.22 L482.1,310.21 L482.5,310.20 L482.8,310.18 L483.2,310.17 L483.5,310.15 L483.9,310.13 L484.2,310.11 L484.6,310.09 L484.9,310.07 L485.3,310.04 L485.6,310.02 L486.0,309.99 L486.3,309.96 L486.7,309.94 L487.1,309.91 L487.4,309.88 L487.8,309.85 L488.1,309.83 L488.5,309.80 L488.8,309.77 L489.2,309.75 L489.5,309.72 L489.9,309.70 L490.2,309.67 L490.6,309.65 L490.9,309.63 L491.3,309.60 L491.6,309.58 L492.0,309.56 L492.4,309.55 L492.7,309.53 L493.1,309.51 L493.4,309.50 L493.8,309.48 L494.1,309.47 L494.5,309.46 L494.8,309.45 L495.2,309.44 L495.5,309.44 L495.9,309.43 L496.2,309.43 L496.6,309.44 L496.9,309.44 L497.3,309.45 L497.7,309.47 L498.0,309.49 L498.4,309.52 L498.7,309.55 L499.1,309.60 L499.4,309.67 L499.8,309.74 L500.1,309.84 L500.5,309.97 L500.8,310.13 L501.2,310.33 L501.5,310.59 L501.9,310.95 L502.2,311.49 L502.6,313.00 L502.6,313.00 L502.2,314.52 L501.9,315.08 L501.5,315.46 L501.2,315.74 L500.8,315.96 L500.5,316.13 L500.1,316.27 L499.8,316.39 L499.4,316.48 L499.1,316.56 L498.7,316.63 L498.4,316.68 L498.0,316.73 L497.7,316.77 L497.3,316.80 L496.9,316.82 L496.6,316.85 L496.2,316.87 L495.9,316.88 L495.5,316.90 L495.2,316.91 L494.8,316.92 L494.5,316.92 L494.1,316.93 L493.8,316.93 L493.4,316.94 L493.1,316.94 L492.7,316.94 L492.4,316.94 L492.0,316.94 L491.6,316.93 L491.3,316.93 L490.9,316.92 L490.6,316.92 L490.2,316.91 L489.9,316.90 L489.5,316.90 L489.2,316.89 L488.8,316.88 L488.5,316.87 L488.1,316.86 L487.8,316.85 L487.4,316.83 L487.1,316.82 L486.7,316.81 L486.3,316.80 L486.0,316.79 L485.6,316.78 L485.3,316.77 L484.9,316.77 L484.6,316.76 L484.2,316.75 L483.9,316.75 L483.5,316.75 L483.2,316.75 L482.8,316.75 L482.5,316.75 L482.1,316.76 L481.8,316.77 L481.4,316.77 L481.0,316.79 L480.7,316.80 L480.3,316.82 L480.0,316.83 L479.6,316.85 L479.3,316.87 L478.9,316.90 L478.6,316.92 L478.2,316.95 L477.9,316.97 L477.5,317.00 L477.2,317.03 L476.8,317.06 L476.5,317.09 L476.1,317.13 L475.7,317.16 L475.4,317.19 L475.0,317.22 L474.7,317.25 L474.3,317.28 L474.0,317.31 L473.6,317.35 L473.3,317.38 L472.9,317.40 L472.6,317.43 L472.2,317.46 L471.9,317.49 L471.5,317.51 L471.2,317.54 L470.8,317.56 L470.4,317.58 L470.1,317.60 L469.7,317.62 L469.4,317.64 L469.0,317.66 L468.7,317.68 L468.3,317.69 L468.0,317.71 L467.6,317.72 L467.3,317.73 L466.9,317.73 L466.6,317.74 L466.2,317.74 L465.9,317.74 L465.5,317.73 L465.1,317.72 L464.8,317.70 L464.4,317.67 L464.1,317.64 L463.7,317.59 L463.4,317.53 L463.0,317.45 L462.7,317.35 L462.3,317.22 L462.0,317.05 L461.6,316.84 L461.3,316.56 L460.9,316.18 L460.6,315.61 L460.2,314.00Z" fill="#000" filter="url(#b15)"/>
<path d="M514.0,313.70 L514.4,311.94 L514.7,311.30 L515.1,310.86 L515.5,310.53 L515.8,310.27 L516.2,310.07 L516.6,309.90 L516.9,309.76 L517.3,309.65 L517.6,309.56 L518.0,309.49 L518.4,309.42 L518.7,309.38 L519.1,309.34 L519.5,309.31 L519.8,309.28 L520.2,309.26 L520.6,309.25 L520.9,309.24 L521.3,309.24 L521.7,309.24 L522.0,309.25 L522.4,309.26 L522.8,309.27 L523.1,309.28 L523.5,309.30 L523.9,309.32 L524.2,309.35 L524.6,309.38 L525.0,309.41 L525.3,309.44 L525.7,309.48 L526.0,309.52 L526.4,309.56 L526.8,309.60 L527.1,309.65 L527.5,309.70 L527.9,309.75 L528.2,309.80 L528.6,309.86 L529.0,309.91 L529.3,309.97 L529.7,310.03 L530.1,310.08 L530.4,310.14 L530.8,310.20 L531.2,310.25 L531.5,310.30 L531.9,310.35 L532.2,310.40 L532.6,310.44 L533.0,310.48 L533.3,310.52 L533.7,310.55 L534.1,310.58 L534.4,310.60 L534.8,310.61 L535.2,310.62 L535.5,310.63 L535.9,310.62 L536.3,310.62 L536.6,310.60 L537.0,310.58 L537.4,310.56 L537.7,310.52 L538.1,310.49 L538.5,310.44 L538.8,310.40 L539.2,310.35 L539.5,310.29 L539.9,310.23 L540.3,310.17 L540.6,310.11 L541.0,310.04 L541.4,309.98 L541.7,309.91 L542.1,309.84 L542.5,309.77 L542.8,309.71 L543.2,309.64 L543.6,309.58 L543.9,309.51 L544.3,309.45 L544.7,309.39 L545.0,309.33 L545.4,309.28 L545.8,309.22 L546.1,309.17 L546.5,309.13 L546.8,309.08 L547.2,309.04 L547.6,309.00 L547.9,308.97 L548.3,308.93 L548.7,308.90 L549.0,308.88 L549.4,308.85 L549.8,308.83 L550.1,308.82 L550.5,308.80 L550.9,308.79 L551.2,308.79 L551.6,308.79 L552.0,308.79 L552.3,308.80 L552.7,308.82 L553.1,308.84 L553.4,308.87 L553.8,308.91 L554.1,308.96 L554.5,309.03 L554.9,309.11 L555.2,309.22 L555.6,309.35 L556.0,309.51 L556.3,309.71 L556.7,309.98 L557.1,310.33 L557.4,310.85 L557.8,312.30 L557.8,312.30 L557.4,313.77 L557.1,314.32 L556.7,314.69 L556.3,314.98 L556.0,315.21 L555.6,315.39 L555.2,315.55 L554.9,315.67 L554.5,315.78 L554.1,315.87 L553.8,315.95 L553.4,316.01 L553.1,316.06 L552.7,316.11 L552.3,316.15 L552.0,316.18 L551.6,316.21 L551.2,316.23 L550.9,316.25 L550.5,316.26 L550.1,316.27 L549.8,316.28 L549.4,316.28 L549.0,316.28 L548.7,316.28 L548.3,316.27 L547.9,316.26 L547.6,316.25 L547.2,316.24 L546.8,316.22 L546.5,316.20 L546.1,316.17 L545.8,316.15 L545.4,316.12 L545.0,316.09 L544.7,316.05 L544.3,316.01 L543.9,315.98 L543.6,315.93 L543.2,315.89 L542.8,315.85 L542.5,315.81 L542.1,315.76 L541.7,315.72 L541.4,315.67 L541.0,315.63 L540.6,315.59 L540.3,315.55 L539.9,315.51 L539.5,315.47 L539.2,315.44 L538.8,315.42 L538.5,315.39 L538.1,315.37 L537.7,315.36 L537.4,315.35 L537.0,315.35 L536.6,315.35 L536.3,315.36 L535.9,315.38 L535.5,315.40 L535.2,315.42 L534.8,315.46 L534.4,315.49 L534.1,315.54 L533.7,315.59 L533.3,315.64 L533.0,315.70 L532.6,315.77 L532.2,315.83 L531.9,315.90 L531.5,315.98 L531.2,316.05 L530.8,316.13 L530.4,316.21 L530.1,316.29 L529.7,316.37 L529.3,316.45 L529.0,316.53 L528.6,316.61 L528.2,316.69 L527.9,316.76 L527.5,316.84 L527.1,316.91 L526.8,316.98 L526.4,317.05 L526.0,317.11 L525.7,317.18 L525.3,317.24 L525.0,317.29 L524.6,317.35 L524.2,317.40 L523.9,317.45 L523.5,317.49 L523.1,317.53 L522.8,317.57 L522.4,317.61 L522.0,317.64 L521.7,317.67 L521.3,317.69 L520.9,317.71 L520.6,317.73 L520.2,317.74 L519.8,317.75 L519.5,317.74 L519.1,317.74 L518.7,317.72 L518.4,317.70 L518.0,317.66 L517.6,317.61 L517.3,317.54 L516.9,317.45 L516.6,317.34 L516.2,317.19 L515.8,317.01 L515.5,316.78 L515.1,316.47 L514.7,316.05 L514.4,315.43 L514.0,313.70Z" fill="#000" filter="url(#b15)"/>
<path d="M566.3,312.00 L566.7,310.15 L567.1,309.48 L567.5,309.01 L567.9,308.66 L568.4,308.39 L568.8,308.17 L569.2,307.99 L569.6,307.84 L570.0,307.72 L570.4,307.62 L570.8,307.54 L571.2,307.47 L571.7,307.41 L572.1,307.37 L572.5,307.33 L572.9,307.30 L573.3,307.27 L573.7,307.25 L574.1,307.23 L574.5,307.22 L575.0,307.21 L575.4,307.20 L575.8,307.20 L576.2,307.20 L576.6,307.20 L577.0,307.20 L577.4,307.20 L577.8,307.21 L578.3,307.21 L578.7,307.22 L579.1,307.23 L579.5,307.24 L579.9,307.26 L580.3,307.27 L580.7,307.29 L581.1,307.30 L581.6,307.32 L582.0,307.34 L582.4,307.36 L582.8,307.37 L583.2,307.39 L583.6,307.41 L584.0,307.44 L584.4,307.46 L584.9,307.48 L585.3,307.50 L585.7,307.52 L586.1,307.53 L586.5,307.55 L586.9,307.57 L587.3,307.58 L587.8,307.60 L588.2,307.61 L588.6,307.62 L589.0,307.62 L589.4,307.63 L589.8,307.63 L590.2,307.63 L590.6,307.63 L591.0,307.62 L591.5,307.62 L591.9,307.61 L592.3,307.59 L592.7,307.58 L593.1,307.56 L593.5,307.54 L593.9,307.52 L594.3,307.50 L594.8,307.47 L595.2,307.44 L595.6,307.41 L596.0,307.38 L596.4,307.35 L596.8,307.32 L597.2,307.29 L597.6,307.26 L598.1,307.22 L598.5,307.19 L598.9,307.16 L599.3,307.12 L599.7,307.09 L600.1,307.06 L600.5,307.03 L600.9,307.00 L601.4,306.97 L601.8,306.95 L602.2,306.92 L602.6,306.89 L603.0,306.87 L603.4,306.85 L603.8,306.83 L604.2,306.81 L604.7,306.79 L605.1,306.77 L605.5,306.76 L605.9,306.75 L606.3,306.74 L606.7,306.73 L607.1,306.72 L607.5,306.72 L608.0,306.72 L608.4,306.73 L608.8,306.74 L609.2,306.75 L609.6,306.77 L610.0,306.80 L610.4,306.84 L610.8,306.89 L611.3,306.95 L611.7,307.02 L612.1,307.12 L612.5,307.23 L612.9,307.38 L613.3,307.56 L613.7,307.78 L614.1,308.06 L614.6,308.42 L615.0,308.91 L615.4,309.63 L615.8,311.60 L615.8,311.60 L615.4,313.58 L615.0,314.30 L614.6,314.80 L614.1,315.17 L613.7,315.45 L613.3,315.68 L612.9,315.87 L612.5,316.02 L612.1,316.14 L611.7,316.24 L611.3,316.33 L610.8,316.39 L610.4,316.45 L610.0,316.49 L609.6,316.53 L609.2,316.56 L608.8,316.58 L608.4,316.59 L608.0,316.60 L607.5,316.61 L607.1,316.62 L606.7,316.62 L606.3,316.62 L605.9,316.61 L605.5,316.61 L605.1,316.60 L604.7,316.59 L604.2,316.58 L603.8,316.57 L603.4,316.55 L603.0,316.54 L602.6,316.52 L602.2,316.50 L601.8,316.48 L601.4,316.46 L600.9,316.44 L600.5,316.42 L600.1,316.39 L599.7,316.37 L599.3,316.34 L598.9,316.32 L598.5,316.29 L598.1,316.26 L597.6,316.24 L597.2,316.21 L596.8,316.19 L596.4,316.16 L596.0,316.14 L595.6,316.11 L595.2,316.09 L594.8,316.07 L594.3,316.05 L593.9,316.03 L593.5,316.02 L593.1,316.00 L592.7,315.99 L592.3,315.99 L591.9,315.98 L591.5,315.98 L591.0,315.98 L590.6,315.98 L590.2,315.98 L589.8,315.99 L589.4,316.00 L589.0,316.01 L588.6,316.02 L588.2,316.04 L587.8,316.06 L587.3,316.08 L586.9,316.10 L586.5,316.12 L586.1,316.15 L585.7,316.17 L585.3,316.20 L584.9,316.22 L584.4,316.25 L584.0,316.28 L583.6,316.31 L583.2,316.33 L582.8,316.36 L582.4,316.38 L582.0,316.41 L581.6,316.44 L581.1,316.46 L580.7,316.48 L580.3,316.50 L579.9,316.52 L579.5,316.54 L579.1,316.56 L578.7,316.58 L578.3,316.59 L577.8,316.61 L577.4,316.62 L577.0,316.63 L576.6,316.64 L576.2,316.64 L575.8,316.65 L575.4,316.65 L575.0,316.65 L574.5,316.65 L574.1,316.64 L573.7,316.63 L573.3,316.62 L572.9,316.60 L572.5,316.57 L572.1,316.54 L571.7,316.50 L571.2,316.45 L570.8,316.39 L570.4,316.31 L570.0,316.22 L569.6,316.10 L569.2,315.96 L568.8,315.79 L568.4,315.58 L567.9,315.31 L567.5,314.97 L567.1,314.51 L566.7,313.84 L566.3,312.00Z" fill="#000" filter="url(#b15)"/>
<rect x="337" y="348.7" width="290.79999999999995" height="53.400000000000034" fill="#fff" stroke="#666" stroke-width="1.5"/>
<rect x="338" y="350" width="289" height="51" fill="#f8f8f8"/>
<path d="M348.7,374.00 L349.1,372.20 L349.6,371.57 L350.0,371.15 L350.4,370.84 L350.9,370.62 L351.3,370.44 L351.8,370.31 L352.2,370.20 L352.6,370.12 L353.1,370.06 L353.5,370.01 L353.9,369.98 L354.4,369.95 L354.8,369.94 L355.2,369.93 L355.7,369.92 L356.1,369.92 L356.5,369.93 L357.0,369.93 L357.4,369.94 L357.9,369.95 L358.3,369.96 L358.7,369.97 L359.2,369.99 L359.6,370.00 L360.0,370.02 L360.5,370.03 L360.9,370.05 L361.3,370.06 L361.8,370.08 L362.2,370.09 L362.6,370.11 L363.1,370.12 L363.5,370.14 L364.0,370.15 L364.4,370.17 L364.8,370.19 L365.3,370.20 L365.7,370.22 L366.1,370.23 L366.6,370.25 L367.0,370.27 L367.4,370.28 L367.9,370.30 L368.3,370.31 L368.7,370.33 L369.2,370.34 L369.6,370.36 L370.1,370.38 L370.5,370.39 L370.9,370.41 L371.4,370.42 L371.8,370.44 L372.2,370.46 L372.7,370.47 L373.1,370.49 L373.5,370.50 L374.0,370.52 L374.4,370.53 L374.9,370.55 L375.3,370.57 L375.7,370.58 L376.2,370.60 L376.6,370.61 L377.0,370.63 L377.5,370.65 L377.9,370.66 L378.3,370.68 L378.8,370.69 L379.2,370.71 L379.6,370.72 L380.1,370.74 L380.5,370.76 L381.0,370.77 L381.4,370.79 L381.8,370.80 L382.3,370.82 L382.7,370.84 L383.1,370.85 L383.6,370.87 L384.0,370.88 L384.4,370.90 L384.9,370.91 L385.3,370.93 L385.7,370.95 L386.2,370.96 L386.6,370.98 L387.1,370.99 L387.5,371.01 L387.9,371.03 L388.4,371.04 L388.8,371.06 L389.2,371.08 L389.7,371.09 L390.1,371.11 L390.5,371.13 L391.0,371.15 L391.4,371.17 L391.8,371.19 L392.3,371.21 L392.7,371.23 L393.2,371.26 L393.6,371.29 L394.0,371.32 L394.5,371.36 L394.9,371.40 L395.3,371.45 L395.8,371.51 L396.2,371.58 L396.6,371.66 L397.1,371.76 L397.5,371.88 L397.9,372.02 L398.4,372.20 L398.8,372.42 L399.3,372.69 L399.7,373.05 L400.1,373.53 L400.6,374.24 L401.0,376.20 L401.0,376.20 L400.6,378.12 L400.1,378.80 L399.7,379.24 L399.3,379.56 L398.8,379.80 L398.4,379.98 L397.9,380.12 L397.5,380.23 L397.1,380.31 L396.6,380.37 L396.2,380.42 L395.8,380.45 L395.3,380.47 L394.9,380.49 L394.5,380.49 L394.0,380.49 L393.6,380.49 L393.2,380.48 L392.7,380.47 L392.3,380.46 L391.8,380.44 L391.4,380.43 L391.0,380.41 L390.5,380.39 L390.1,380.37 L389.7,380.35 L389.2,380.33 L388.8,380.31 L388.4,380.29 L387.9,380.27 L387.5,380.25 L387.1,380.23 L386.6,380.21 L386.2,380.19 L385.7,380.17 L385.3,380.15 L384.9,380.13 L384.4,380.11 L384.0,380.09 L383.6,380.07 L383.1,380.05 L382.7,380.02 L382.3,380.00 L381.8,379.98 L381.4,379.96 L381.0,379.94 L380.5,379.92 L380.1,379.90 L379.6,379.88 L379.2,379.86 L378.8,379.84 L378.3,379.82 L377.9,379.80 L377.5,379.77 L377.0,379.75 L376.6,379.73 L376.2,379.71 L375.7,379.69 L375.3,379.67 L374.9,379.65 L374.4,379.63 L374.0,379.61 L373.5,379.59 L373.1,379.57 L372.7,379.55 L372.2,379.52 L371.8,379.50 L371.4,379.48 L370.9,379.46 L370.5,379.44 L370.1,379.42 L369.6,379.40 L369.2,379.38 L368.7,379.36 L368.3,379.34 L367.9,379.32 L367.4,379.30 L367.0,379.27 L366.6,379.25 L366.1,379.23 L365.7,379.21 L365.3,379.19 L364.8,379.17 L364.4,379.15 L364.0,379.13 L363.5,379.11 L363.1,379.09 L362.6,379.07 L362.2,379.05 L361.8,379.02 L361.3,379.00 L360.9,378.98 L360.5,378.96 L360.0,378.94 L359.6,378.92 L359.2,378.89 L358.7,378.87 L358.3,378.84 L357.9,378.82 L357.4,378.79 L357.0,378.76 L356.5,378.73 L356.1,378.70 L355.7,378.66 L355.2,378.62 L354.8,378.57 L354.4,378.52 L353.9,378.46 L353.5,378.39 L353.1,378.31 L352.6,378.21 L352.2,378.09 L351.8,377.95 L351.3,377.78 L350.9,377.57 L350.4,377.30 L350.0,376.96 L349.6,376.51 L349.1,375.84 L348.7,374.00Z" fill="#000" filter="url(#b1)"/>
<path d="M405.0,376.30 L405.4,374.36 L405.8,373.66 L406.3,373.19 L406.7,372.84 L407.1,372.57 L407.5,372.36 L408.0,372.19 L408.4,372.06 L408.8,371.95 L409.2,371.86 L409.7,371.79 L410.1,371.73 L410.5,371.68 L410.9,371.65 L411.4,371.61 L411.8,371.59 L412.2,371.57 L412.6,371.55 L413.1,371.54 L413.5,371.53 L413.9,371.52 L414.3,371.52 L414.8,371.51 L415.2,371.51 L415.6,371.51 L416.0,371.51 L416.5,371.50 L416.9,371.50 L417.3,371.50 L417.7,371.50 L418.1,371.50 L418.6,371.50 L419.0,371.50 L419.4,371.50 L419.8,371.50 L420.3,371.50 L420.7,371.50 L421.1,371.50 L421.5,371.50 L422.0,371.50 L422.4,371.50 L422.8,371.50 L423.2,371.50 L423.7,371.50 L424.1,371.50 L424.5,371.50 L424.9,371.50 L425.4,371.50 L425.8,371.50 L426.2,371.50 L426.6,371.50 L427.1,371.50 L427.5,371.50 L427.9,371.50 L428.3,371.50 L428.8,371.50 L429.2,371.50 L429.6,371.50 L430.0,371.50 L430.4,371.50 L430.9,371.50 L431.3,371.50 L431.7,371.50 L432.1,371.50 L432.6,371.50 L433.0,371.50 L433.4,371.50 L433.8,371.50 L434.3,371.50 L434.7,371.50 L435.1,371.50 L435.5,371.50 L436.0,371.50 L436.4,371.50 L436.8,371.50 L437.2,371.50 L437.7,371.50 L438.1,371.50 L438.5,371.50 L438.9,371.50 L439.4,371.50 L439.8,371.50 L440.2,371.50 L440.6,371.50 L441.1,371.50 L441.5,371.50 L441.9,371.50 L442.3,371.50 L442.8,371.50 L443.2,371.50 L443.6,371.50 L444.0,371.50 L444.4,371.50 L444.9,371.51 L445.3,371.51 L445.7,371.51 L446.1,371.51 L446.6,371.52 L447.0,371.52 L447.4,371.53 L447.8,371.54 L448.3,371.55 L448.7,371.57 L449.1,371.59 L449.5,371.61 L450.0,371.65 L450.4,371.68 L450.8,371.73 L451.2,371.79 L451.7,371.86 L452.1,371.95 L452.5,372.06 L452.9,372.19 L453.4,372.36 L453.8,372.57 L454.2,372.84 L454.6,373.19 L455.1,373.66 L455.5,374.36 L455.9,376.30 L455.9,376.30 L455.5,378.24 L455.1,378.94 L454.6,379.41 L454.2,379.76 L453.8,380.03 L453.4,380.24 L452.9,380.41 L452.5,380.54 L452.1,380.65 L451.7,380.74 L451.2,380.81 L450.8,380.87 L450.4,380.92 L450.0,380.95 L449.5,380.99 L449.1,381.01 L448.7,381.03 L448.3,381.05 L447.8,381.06 L447.4,381.07 L447.0,381.08 L446.6,381.08 L446.1,381.09 L445.7,381.09 L445.3,381.09 L444.9,381.09 L444.4,381.10 L444.0,381.10 L443.6,381.10 L443.2,381.10 L442.8,381.10 L442.3,381.10 L441.9,381.10 L441.5,381.10 L441.1,381.10 L440.6,381.10 L440.2,381.10 L439.8,381.10 L439.4,381.10 L438.9,381.10 L438.5,381.10 L438.1,381.10 L437.7,381.10 L437.2,381.10 L436.8,381.10 L436.4,381.10 L436.0,381.10 L435.5,381.10 L435.1,381.10 L434.7,381.10 L434.3,381.10 L433.8,381.10 L433.4,381.10 L433.0,381.10 L432.6,381.10 L432.1,381.10 L431.7,381.10 L431.3,381.10 L430.9,381.10 L430.4,381.10 L430.0,381.10 L429.6,381.10 L429.2,381.10 L428.8,381.10 L428.3,381.10 L427.9,381.10 L427.5,381.10 L427.1,381.10 L426.6,381.10 L426.2,381.10 L425.8,381.10 L425.4,381.10 L424.9,381.10 L424.5,381.10 L424.1,381.10 L423.7,381.10 L423.2,381.10 L422.8,381.10 L422.4,381.10 L422.0,381.10 L421.5,381.10 L421.1,381.10 L420.7,381.10 L420.3,381.10 L419.8,381.10 L419.4,381.10 L419.0,381.10 L418.6,381.10 L418.1,381.10 L417.7,381.10 L417.3,381.10 L416.9,381.10 L416.5,381.10 L416.0,381.09 L415.6,381.09 L415.2,381.09 L414.8,381.09 L414.3,381.08 L413.9,381.08 L413.5,381.07 L413.1,381.06 L412.6,381.05 L412.2,381.03 L411.8,381.01 L411.4,380.99 L410.9,380.95 L410.5,380.92 L410.1,380.87 L409.7,380.81 L409.2,380.74 L408.8,380.65 L408.4,380.54 L408.0,380.41 L407.5,380.24 L407.1,380.03 L406.7,379.76 L406.3,379.41 L405.8,378.94 L405.4,378.24 L405.0,376.30Z" fill="#000" filter="url(#b1)"/>
<path d="M460.6,376.80 L461.0,375.17 L461.4,374.61 L461.8,374.25 L462.2,373.99 L462.6,373.80 L463.1,373.66 L463.5,373.55 L463.9,373.47 L464.3,373.40 L464.7,373.35 L465.1,373.32 L465.5,373.29 L465.9,373.26 L466.3,373.25 L466.7,373.24 L467.1,373.23 L467.6,373.22 L468.0,373.21 L468.4,373.21 L468.8,373.21 L469.2,373.21 L469.6,373.20 L470.0,373.20 L470.4,373.20 L470.8,373.20 L471.2,373.20 L471.6,373.20 L472.1,373.20 L472.5,373.20 L472.9,373.20 L473.3,373.20 L473.7,373.20 L474.1,373.20 L474.5,373.20 L474.9,373.20 L475.3,373.20 L475.7,373.20 L476.1,373.20 L476.6,373.20 L477.0,373.20 L477.4,373.20 L477.8,373.20 L478.2,373.20 L478.6,373.20 L479.0,373.20 L479.4,373.20 L479.8,373.20 L480.2,373.20 L480.6,373.20 L481.1,373.20 L481.5,373.20 L481.9,373.20 L482.3,373.20 L482.7,373.20 L483.1,373.20 L483.5,373.20 L483.9,373.20 L484.3,373.20 L484.7,373.20 L485.1,373.20 L485.6,373.20 L486.0,373.20 L486.4,373.20 L486.8,373.20 L487.2,373.20 L487.6,373.20 L488.0,373.20 L488.4,373.20 L488.8,373.20 L489.2,373.20 L489.7,373.20 L490.1,373.20 L490.5,373.20 L490.9,373.20 L491.3,373.20 L491.7,373.20 L492.1,373.20 L492.5,373.20 L492.9,373.20 L493.3,373.20 L493.7,373.20 L494.2,373.20 L494.6,373.20 L495.0,373.20 L495.4,373.20 L495.8,373.20 L496.2,373.20 L496.6,373.20 L497.0,373.20 L497.4,373.20 L497.8,373.20 L498.2,373.20 L498.7,373.20 L499.1,373.20 L499.5,373.20 L499.9,373.20 L500.3,373.20 L500.7,373.20 L501.1,373.21 L501.5,373.21 L501.9,373.21 L502.3,373.21 L502.7,373.22 L503.2,373.23 L503.6,373.24 L504.0,373.25 L504.4,373.26 L504.8,373.29 L505.2,373.32 L505.6,373.35 L506.0,373.40 L506.4,373.47 L506.8,373.55 L507.2,373.66 L507.7,373.80 L508.1,373.99 L508.5,374.25 L508.9,374.61 L509.3,375.17 L509.7,376.80 L509.7,376.80 L509.3,378.43 L508.9,378.99 L508.5,379.35 L508.1,379.61 L507.7,379.80 L507.2,379.94 L506.8,380.05 L506.4,380.13 L506.0,380.20 L505.6,380.25 L505.2,380.28 L504.8,380.31 L504.4,380.34 L504.0,380.35 L503.6,380.36 L503.2,380.37 L502.7,380.38 L502.3,380.39 L501.9,380.39 L501.5,380.39 L501.1,380.39 L500.7,380.40 L500.3,380.40 L499.9,380.40 L499.5,380.40 L499.1,380.40 L498.7,380.40 L498.2,380.40 L497.8,380.40 L497.4,380.40 L497.0,380.40 L496.6,380.40 L496.2,380.40 L495.8,380.40 L495.4,380.40 L495.0,380.40 L494.6,380.40 L494.2,380.40 L493.7,380.40 L493.3,380.40 L492.9,380.40 L492.5,380.40 L492.1,380.40 L491.7,380.40 L491.3,380.40 L490.9,380.40 L490.5,380.40 L490.1,380.40 L489.7,380.40 L489.2,380.40 L488.8,380.40 L488.4,380.40 L488.0,380.40 L487.6,380.40 L487.2,380.40 L486.8,380.40 L486.4,380.40 L486.0,380.40 L485.6,380.40 L485.1,380.40 L484.7,380.40 L484.3,380.40 L483.9,380.40 L483.5,380.40 L483.1,380.40 L482.7,380.40 L482.3,380.40 L481.9,380.40 L481.5,380.40 L481.1,380.40 L480.6,380.40 L480.2,380.40 L479.8,380.40 L479.4,380.40 L479.0,380.40 L478.6,380.40 L478.2,380.40 L477.8,380.40 L477.4,380.40 L477.0,380.40 L476.6,380.40 L476.1,380.40 L475.7,380.40 L475.3,380.40 L474.9,380.40 L474.5,380.40 L474.1,380.40 L473.7,380.40 L473.3,380.40 L472.9,380.40 L472.5,380.40 L472.1,380.40 L471.6,380.40 L471.2,380.40 L470.8,380.40 L470.4,380.40 L470.0,380.40 L469.6,380.40 L469.2,380.39 L468.8,380.39 L468.4,380.39 L468.0,380.39 L467.6,380.38 L467.1,380.37 L466.7,380.36 L466.3,380.35 L465.9,380.34 L465.5,380.31 L465.1,380.28 L464.7,380.25 L464.3,380.20 L463.9,380.13 L463.5,380.05 L463.1,379.94 L462.6,379.80 L462.2,379.61 L461.8,379.35 L461.4,378.99 L461.0,378.43 L460.6,376.80Z" fill="#000" filter="url(#b1)"/>
<path d="M517.1,376.70 L517.5,375.12 L517.9,374.57 L518.3,374.22 L518.7,373.97 L519.1,373.78 L519.5,373.64 L519.9,373.53 L520.3,373.44 L520.7,373.38 L521.1,373.32 L521.5,373.28 L521.9,373.25 L522.3,373.22 L522.7,373.20 L523.1,373.18 L523.5,373.17 L523.9,373.15 L524.3,373.14 L524.7,373.13 L525.1,373.12 L525.5,373.11 L525.9,373.11 L526.3,373.10 L526.7,373.09 L527.1,373.08 L527.5,373.08 L527.9,373.07 L528.3,373.06 L528.7,373.06 L529.0,373.05 L529.4,373.04 L529.8,373.04 L530.2,373.03 L530.6,373.02 L531.0,373.02 L531.4,373.01 L531.8,373.00 L532.2,373.00 L532.6,372.99 L533.0,372.98 L533.4,372.98 L533.8,372.97 L534.2,372.96 L534.6,372.96 L535.0,372.95 L535.4,372.94 L535.8,372.94 L536.2,372.93 L536.6,372.92 L537.0,372.92 L537.4,372.91 L537.8,372.90 L538.2,372.90 L538.6,372.89 L539.0,372.88 L539.4,372.88 L539.8,372.87 L540.2,372.86 L540.6,372.86 L541.0,372.85 L541.4,372.84 L541.8,372.84 L542.2,372.83 L542.6,372.82 L543.0,372.82 L543.4,372.81 L543.8,372.80 L544.2,372.80 L544.6,372.79 L545.0,372.78 L545.4,372.78 L545.8,372.77 L546.2,372.76 L546.6,372.76 L547.0,372.75 L547.4,372.74 L547.8,372.74 L548.2,372.73 L548.6,372.72 L549.0,372.72 L549.4,372.71 L549.8,372.70 L550.2,372.70 L550.6,372.69 L551.0,372.68 L551.4,372.68 L551.8,372.67 L552.2,372.66 L552.6,372.66 L553.0,372.65 L553.3,372.64 L553.7,372.64 L554.1,372.63 L554.5,372.62 L554.9,372.62 L555.3,372.61 L555.7,372.61 L556.1,372.60 L556.5,372.59 L556.9,372.59 L557.3,372.59 L557.7,372.58 L558.1,372.58 L558.5,372.58 L558.9,372.58 L559.3,372.59 L559.7,372.60 L560.1,372.61 L560.5,372.63 L560.9,372.66 L561.3,372.70 L561.7,372.75 L562.1,372.82 L562.5,372.92 L562.9,373.05 L563.3,373.22 L563.7,373.46 L564.1,373.80 L564.5,374.33 L564.9,375.90 L564.9,375.90 L564.5,377.48 L564.1,378.03 L563.7,378.38 L563.3,378.63 L562.9,378.82 L562.5,378.96 L562.1,379.07 L561.7,379.16 L561.3,379.22 L560.9,379.28 L560.5,379.32 L560.1,379.35 L559.7,379.38 L559.3,379.40 L558.9,379.42 L558.5,379.43 L558.1,379.45 L557.7,379.46 L557.3,379.47 L556.9,379.48 L556.5,379.49 L556.1,379.49 L555.7,379.50 L555.3,379.51 L554.9,379.52 L554.5,379.52 L554.1,379.53 L553.7,379.54 L553.3,379.54 L553.0,379.55 L552.6,379.56 L552.2,379.56 L551.8,379.57 L551.4,379.58 L551.0,379.58 L550.6,379.59 L550.2,379.60 L549.8,379.60 L549.4,379.61 L549.0,379.62 L548.6,379.62 L548.2,379.63 L547.8,379.64 L547.4,379.64 L547.0,379.65 L546.6,379.66 L546.2,379.66 L545.8,379.67 L545.4,379.68 L545.0,379.68 L544.6,379.69 L544.2,379.70 L543.8,379.70 L543.4,379.71 L543.0,379.72 L542.6,379.72 L542.2,379.73 L541.8,379.74 L541.4,379.74 L541.0,379.75 L540.6,379.76 L540.2,379.76 L539.8,379.77 L539.4,379.78 L539.0,379.78 L538.6,379.79 L538.2,379.80 L537.8,379.80 L537.4,379.81 L537.0,379.82 L536.6,379.82 L536.2,379.83 L535.8,379.84 L535.4,379.84 L535.0,379.85 L534.6,379.86 L534.2,379.86 L533.8,379.87 L533.4,379.88 L533.0,379.88 L532.6,379.89 L532.2,379.90 L531.8,379.90 L531.4,379.91 L531.0,379.92 L530.6,379.92 L530.2,379.93 L529.8,379.94 L529.4,379.94 L529.0,379.95 L528.7,379.96 L528.3,379.96 L527.9,379.97 L527.5,379.98 L527.1,379.98 L526.7,379.99 L526.3,379.99 L525.9,380.00 L525.5,380.01 L525.1,380.01 L524.7,380.01 L524.3,380.02 L523.9,380.02 L523.5,380.02 L523.1,380.02 L522.7,380.01 L522.3,380.00 L521.9,379.99 L521.5,379.97 L521.1,379.94 L520.7,379.90 L520.3,379.85 L519.9,379.78 L519.5,379.68 L519.1,379.55 L518.7,379.38 L518.3,379.14 L517.9,378.80 L517.5,378.27 L517.1,376.70Z" fill="#000" filter="url(#b1)"/>
<path d="M571.3,375.05 L571.7,373.54 L572.1,373.03 L572.6,372.71 L573.0,372.49 L573.4,372.33 L573.8,372.21 L574.3,372.12 L574.7,372.05 L575.1,372.00 L575.5,371.96 L576.0,371.93 L576.4,371.91 L576.8,371.89 L577.2,371.88 L577.7,371.86 L578.1,371.85 L578.5,371.85 L578.9,371.84 L579.4,371.84 L579.8,371.83 L580.2,371.83 L580.6,371.83 L581.1,371.83 L581.5,371.83 L581.9,371.83 L582.3,371.83 L582.8,371.84 L583.2,371.84 L583.6,371.85 L584.0,371.86 L584.4,371.87 L584.9,371.88 L585.3,371.89 L585.7,371.90 L586.1,371.91 L586.6,371.93 L587.0,371.94 L587.4,371.96 L587.8,371.97 L588.3,371.99 L588.7,372.01 L589.1,372.03 L589.5,372.05 L590.0,372.06 L590.4,372.08 L590.8,372.10 L591.2,372.12 L591.7,372.13 L592.1,372.15 L592.5,372.16 L592.9,372.18 L593.4,372.19 L593.8,372.20 L594.2,372.20 L594.6,372.21 L595.1,372.21 L595.5,372.21 L595.9,372.21 L596.3,372.21 L596.8,372.20 L597.2,372.19 L597.6,372.18 L598.0,372.16 L598.4,372.15 L598.9,372.13 L599.3,372.10 L599.7,372.08 L600.1,372.05 L600.6,372.03 L601.0,372.00 L601.4,371.97 L601.8,371.93 L602.3,371.90 L602.7,371.87 L603.1,371.83 L603.5,371.80 L604.0,371.76 L604.4,371.73 L604.8,371.69 L605.2,371.66 L605.7,371.62 L606.1,371.59 L606.5,371.56 L606.9,371.53 L607.4,371.50 L607.8,371.47 L608.2,371.44 L608.6,371.41 L609.1,371.38 L609.5,371.36 L609.9,371.33 L610.3,371.31 L610.7,371.29 L611.2,371.27 L611.6,371.25 L612.0,371.23 L612.4,371.21 L612.9,371.20 L613.3,371.18 L613.7,371.17 L614.1,371.15 L614.6,371.14 L615.0,371.13 L615.4,371.12 L615.8,371.11 L616.3,371.11 L616.7,371.11 L617.1,371.11 L617.5,371.12 L618.0,371.13 L618.4,371.16 L618.8,371.19 L619.2,371.24 L619.7,371.32 L620.1,371.42 L620.5,371.57 L620.9,371.79 L621.4,372.10 L621.8,372.61 L622.2,374.15 L622.2,374.15 L621.8,375.71 L621.4,376.23 L620.9,376.56 L620.5,376.79 L620.1,376.95 L619.7,377.07 L619.2,377.16 L618.8,377.23 L618.4,377.28 L618.0,377.32 L617.5,377.35 L617.1,377.37 L616.7,377.39 L616.3,377.40 L615.8,377.41 L615.4,377.42 L615.0,377.43 L614.6,377.43 L614.1,377.43 L613.7,377.43 L613.3,377.43 L612.9,377.43 L612.4,377.43 L612.0,377.43 L611.6,377.43 L611.2,377.42 L610.7,377.42 L610.3,377.41 L609.9,377.40 L609.5,377.39 L609.1,377.38 L608.6,377.37 L608.2,377.36 L607.8,377.34 L607.4,377.33 L606.9,377.31 L606.5,377.30 L606.1,377.28 L605.7,377.26 L605.2,377.24 L604.8,377.22 L604.4,377.20 L604.0,377.18 L603.5,377.16 L603.1,377.14 L602.7,377.12 L602.3,377.10 L601.8,377.09 L601.4,377.07 L601.0,377.05 L600.6,377.04 L600.1,377.03 L599.7,377.01 L599.3,377.01 L598.9,377.00 L598.4,376.99 L598.0,376.99 L597.6,376.99 L597.2,376.99 L596.8,377.00 L596.3,377.01 L595.9,377.02 L595.5,377.03 L595.1,377.05 L594.6,377.07 L594.2,377.09 L593.8,377.11 L593.4,377.13 L592.9,377.16 L592.5,377.19 L592.1,377.22 L591.7,377.25 L591.2,377.28 L590.8,377.31 L590.4,377.34 L590.0,377.38 L589.5,377.41 L589.1,377.44 L588.7,377.48 L588.3,377.51 L587.8,377.54 L587.4,377.57 L587.0,377.60 L586.6,377.63 L586.1,377.66 L585.7,377.69 L585.3,377.72 L584.9,377.74 L584.4,377.77 L584.0,377.79 L583.6,377.82 L583.2,377.84 L582.8,377.86 L582.3,377.88 L581.9,377.89 L581.5,377.91 L581.1,377.93 L580.6,377.94 L580.2,377.95 L579.8,377.97 L579.4,377.98 L578.9,377.99 L578.5,378.00 L578.1,378.01 L577.7,378.01 L577.2,378.01 L576.8,378.02 L576.4,378.01 L576.0,378.00 L575.5,377.99 L575.1,377.96 L574.7,377.93 L574.3,377.87 L573.8,377.80 L573.4,377.70 L573.0,377.55 L572.6,377.34 L572.1,377.04 L571.7,376.54 L571.3,375.05Z" fill="#000" filter="url(#b1)"/>
<path d="M719.3,18.4 V203.1 H1026" fill="none" stroke="#858585" stroke-width="1.5"/>
<text x="713.6" y="205.39999999999998" font-size="9.3" font-weight="bold" fill="#222" text-anchor="end" stroke="#222" stroke-width="0.3">0</text>
<text x="713.6" y="176.6" font-size="9.3" font-weight="bold" fill="#222" text-anchor="end" stroke="#222" stroke-width="0.3">2</text>
<text x="713.6" y="148.0" font-size="9.3" font-weight="bold" fill="#222" text-anchor="end" stroke="#222" stroke-width="0.3">4</text>
<text x="713.6" y="118.60000000000001" font-size="9.3" font-weight="bold" fill="#222" text-anchor="end" stroke="#222" stroke-width="0.3">6</text>
<text x="713.6" y="90.10000000000001" font-size="9.3" font-weight="bold" fill="#222" text-anchor="end" stroke="#222" stroke-width="0.3">8</text>
<text x="713.6" y="62.2" font-size="9.3" font-weight="bold" fill="#222" text-anchor="end" stroke="#222" stroke-width="0.3">10</text>
<text x="713.6" y="33.0" font-size="9.3" font-weight="bold" fill="#222" text-anchor="end" stroke="#222" stroke-width="0.3">12</text>
<rect x="733.7" y="188.7" width="42.39999999999998" height="14.400000000000006" fill="#808080" stroke="#727272" stroke-width="1"/>
<rect x="795.0" y="169.5" width="43.10000000000002" height="33.599999999999994" fill="#808080" stroke="#727272" stroke-width="1"/>
<path d="M816.55,169 V165.7 M814.25,165.7 H818.8499999999999" stroke="#7a7a7a" stroke-width="1.1" fill="none"/>
<rect x="856.9" y="152.2" width="42.30000000000007" height="50.900000000000006" fill="#808080" stroke="#727272" stroke-width="1"/>
<path d="M878.05,151.7 V149.1 M875.75,149.1 H880.3499999999999" stroke="#7a7a7a" stroke-width="1.1" fill="none"/>
<rect x="918.8" y="150.1" width="42.10000000000002" height="53.0" fill="#808080" stroke="#727272" stroke-width="1"/>
<path d="M939.8499999999999,149.6 V145.8 M937.55,145.8 H942.1499999999999" stroke="#7a7a7a" stroke-width="1.1" fill="none"/>
<rect x="980.2" y="67.0" width="42.299999999999955" height="136.1" fill="#808080" stroke="#727272" stroke-width="1"/>
<path d="M1001.35,66.5 V61.8 M999.0500000000001,61.8 H1003.65" stroke="#7a7a7a" stroke-width="1.1" fill="none"/>
<text x="813.7" y="24.8" font-size="14" font-weight="bold" fill="#222" text-anchor="start" textLength="134.4" lengthAdjust="spacingAndGlyphs" >phos-H2AX in H460</text>
<text transform="translate(696.6,151.2) rotate(-90)" x="0" y="0" font-size="14.5" font-weight="bold" fill="#222" stroke="#222" stroke-width="0.25" textLength="79.5" lengthAdjust="spacingAndGlyphs">Fold change</text>
<text x="735.2" y="220.6" font-size="14" font-weight="bold" fill="#222" text-anchor="start" textLength="26.6" lengthAdjust="spacingAndGlyphs" stroke="#222" stroke-width="0.2">Con</text>
<text x="797.8" y="220.6" font-size="14" font-weight="bold" fill="#222" text-anchor="start" textLength="25.5" lengthAdjust="spacingAndGlyphs" stroke="#222" stroke-width="0.2">Ben</text>
<text x="847.5" y="220.6" font-size="14" font-weight="bold" fill="#222" text-anchor="start" textLength="65" lengthAdjust="spacingAndGlyphs" stroke="#222" stroke-width="0.2">RXDX-107</text>
<text x="926.5" y="220.6" font-size="14" font-weight="bold" fill="#222" text-anchor="start" textLength="24.7" lengthAdjust="spacingAndGlyphs" stroke="#222" stroke-width="0.2">Ben</text>
<text x="976.1" y="220.6" font-size="14" font-weight="bold" fill="#222" text-anchor="start" textLength="63.7" lengthAdjust="spacingAndGlyphs" stroke="#222" stroke-width="0.2">RXDX-107</text>
<path d="M789.7,224 V228 H905.3 V224 M847.5,228 V232" fill="none" stroke="#666" stroke-width="1.3"/>
<path d="M911.2,224 V228 H1025.8 V224 M968.5,228 V232" fill="none" stroke="#666" stroke-width="1.3"/>
<text x="836" y="248.0" font-size="14" font-weight="bold" fill="#222" text-anchor="start" textLength="31.9" lengthAdjust="spacingAndGlyphs" stroke="#222" stroke-width="0.2">6 Hrs</text>
<text x="957.8" y="249.5" font-size="14" font-weight="bold" fill="#222" text-anchor="start" textLength="32.3" lengthAdjust="spacingAndGlyphs" stroke="#222" stroke-width="0.2">9 Hrs</text>
<path d="M720.5,306.4 V471.3 H1024" fill="none" stroke="#858585" stroke-width="1.5"/>
<text x="709.8" y="474.20000000000005" font-size="9.3" font-weight="bold" fill="#222" text-anchor="end" stroke="#222" stroke-width="0.3">0</text>
<text x="709.8" y="447.6" font-size="9.3" font-weight="bold" fill="#222" text-anchor="end" stroke="#222" stroke-width="0.3">1</text>
<text x="709.8" y="420.8" font-size="9.3" font-weight="bold" fill="#222" text-anchor="end" stroke="#222" stroke-width="0.3">2</text>
<text x="709.8" y="393.70000000000005" font-size="9.3" font-weight="bold" fill="#222" text-anchor="end" stroke="#222" stroke-width="0.3">3</text>
<text x="709.8" y="366.90000000000003" font-size="9.3" font-weight="bold" fill="#222" text-anchor="end" stroke="#222" stroke-width="0.3">4</text>
<text x="709.8" y="340.8" font-size="9.3" font-weight="bold" fill="#222" text-anchor="end" stroke="#222" stroke-width="0.3">5</text>
<text x="709.8" y="314.20000000000005" font-size="9.3" font-weight="bold" fill="#222" text-anchor="end" stroke="#222" stroke-width="0.3">6</text>
<rect x="729.4" y="445.5" width="43.30000000000007" height="25.80000000000001" fill="#808080" stroke="#727272" stroke-width="1"/>
<rect x="791.2" y="436.9" width="43.5" height="34.400000000000034" fill="#808080" stroke="#727272" stroke-width="1"/>
<path d="M812.95,436.4 V434.1 M810.6500000000001,434.1 H815.25" stroke="#7a7a7a" stroke-width="1.1" fill="none"/>
<rect x="854.4" y="402.6" width="43.0" height="68.69999999999999" fill="#808080" stroke="#727272" stroke-width="1"/>
<path d="M875.9,402.1 V399 M873.6,399 H878.1999999999999" stroke="#7a7a7a" stroke-width="1.1" fill="none"/>
<rect x="915.9" y="381.7" width="44.0" height="89.60000000000002" fill="#808080" stroke="#727272" stroke-width="1"/>
<path d="M937.9,381.2 V376.2 M935.6,376.2 H940.1999999999999" stroke="#7a7a7a" stroke-width="1.1" fill="none"/>
<rect x="978.2" y="338.2" width="43.59999999999991" height="133.10000000000002" fill="#808080" stroke="#727272" stroke-width="1"/>
<path d="M1000.0,337.7 V328.5 M997.7,328.5 H1002.3" stroke="#7a7a7a" stroke-width="1.1" fill="none"/>
<text x="791.4" y="307.4" font-size="14" font-weight="bold" fill="#222" text-anchor="start" textLength="194.1" lengthAdjust="spacingAndGlyphs" >phos-H2AX in MDA-MB-231</text>
<text transform="translate(697.7,432.2) rotate(-90)" x="0" y="0" font-size="14.5" font-weight="bold" fill="#222" stroke="#222" stroke-width="0.25" textLength="80" lengthAdjust="spacingAndGlyphs">Fold change</text>
<text x="735.7" y="488.09999999999997" font-size="14" font-weight="bold" fill="#222" text-anchor="start" textLength="26.1" lengthAdjust="spacingAndGlyphs" stroke="#222" stroke-width="0.2">Con</text>
<text x="798.2" y="488.09999999999997" font-size="14" font-weight="bold" fill="#222" text-anchor="start" textLength="25.7" lengthAdjust="spacingAndGlyphs" stroke="#222" stroke-width="0.2">Ben</text>
<text x="849.2" y="488.09999999999997" font-size="14" font-weight="bold" fill="#222" text-anchor="start" textLength="63.4" lengthAdjust="spacingAndGlyphs" stroke="#222" stroke-width="0.2">RXDX-107</text>
<text x="927.7" y="488.09999999999997" font-size="14" font-weight="bold" fill="#222" text-anchor="start" textLength="25" lengthAdjust="spacingAndGlyphs" stroke="#222" stroke-width="0.2">Ben</text>
<text x="978.8" y="488.09999999999997" font-size="14" font-weight="bold" fill="#222" text-anchor="start" textLength="63.5" lengthAdjust="spacingAndGlyphs" stroke="#222" stroke-width="0.2">RXDX-107</text>
<path d="M789.8,492.2 V496.2 H906 V492.2 M847.7,496.2 V500.2" fill="none" stroke="#666" stroke-width="1.3"/>
<path d="M911.5,492.2 V496.2 H1028 V492.2 M970,496.2 V500.2" fill="none" stroke="#666" stroke-width="1.3"/>
<text x="836.8" y="516.1999999999999" font-size="14" font-weight="bold" fill="#222" text-anchor="start" textLength="32.5" lengthAdjust="spacingAndGlyphs" stroke="#222" stroke-width="0.2">6 Hrs</text>
<text x="959.6" y="518.0" font-size="14" font-weight="bold" fill="#222" text-anchor="start" textLength="32.7" lengthAdjust="spacingAndGlyphs" stroke="#222" stroke-width="0.2">9 Hrs</text>
<text x="3.20" y="560" font-weight="normal" stroke="#1a1a1a" stroke-width="0.85" font-size="19.5" fill="#1a1a1a" style='font-family:"Liberation Serif", serif' textLength="49.00" lengthAdjust="spacingAndGlyphs">Figure</text>
<text x="58.00" y="560" font-weight="normal" stroke="#1a1a1a" stroke-width="0.85" font-size="19.5" fill="#1a1a1a" style='font-family:"Liberation Serif", serif' textLength="25.20" lengthAdjust="spacingAndGlyphs">2B:</text>
<text x="88.10" y="560" font-size="19.5" fill="#1a1a1a" style='font-family:"Liberation Serif", serif' textLength="115.30" lengthAdjust="spacingAndGlyphs">Representative</text>
<text x="208.10" y="560" font-size="19.5" fill="#1a1a1a" style='font-family:"Liberation Serif", serif' textLength="104.80" lengthAdjust="spacingAndGlyphs">immunoblots</text>
<text x="317.40" y="560" font-size="19.5" fill="#1a1a1a" style='font-family:"Liberation Serif", serif' textLength="16.00" lengthAdjust="spacingAndGlyphs">of</text>
<text x="336.90" y="560" font-size="19.5" fill="#1a1a1a" style='font-family:"Liberation Serif", serif' textLength="132.25" lengthAdjust="spacingAndGlyphs">phosphorylation</text>
<text x="473.90" y="560" font-size="19.5" fill="#1a1a1a" style='font-family:"Liberation Serif", serif' textLength="15.25" lengthAdjust="spacingAndGlyphs">of</text>
<text x="493.15" y="560" font-size="19.5" fill="#1a1a1a" style='font-family:"Liberation Serif", serif' textLength="51.00" lengthAdjust="spacingAndGlyphs">H2AX</text>
<text x="549.20" y="560" font-size="19.5" fill="#1a1a1a" style='font-family:"Liberation Serif", serif' textLength="15.10" lengthAdjust="spacingAndGlyphs">in</text>
<text x="569.20" y="560" font-size="19.5" fill="#1a1a1a" style='font-family:"Liberation Serif", serif' textLength="42.90" lengthAdjust="spacingAndGlyphs">H460</text>
<text x="617.00" y="560" font-size="19.5" fill="#1a1a1a" style='font-family:"Liberation Serif", serif' textLength="29.60" lengthAdjust="spacingAndGlyphs">and</text>
<text x="651.90" y="560" font-size="19.5" fill="#1a1a1a" style='font-family:"Liberation Serif", serif' textLength="113.50" lengthAdjust="spacingAndGlyphs">MDA-MB-231</text>
<text x="771.40" y="560" font-size="19.5" fill="#1a1a1a" style='font-family:"Liberation Serif", serif' textLength="33.80" lengthAdjust="spacingAndGlyphs">with</text>
<text x="810.40" y="560" font-size="19.5" fill="#1a1a1a" style='font-family:"Liberation Serif", serif' textLength="110.00" lengthAdjust="spacingAndGlyphs">bendamustine</text>
<text x="925.40" y="560" font-size="19.5" fill="#1a1a1a" style='font-family:"Liberation Serif", serif' textLength="32.00" lengthAdjust="spacingAndGlyphs">and</text>
<text x="960.40" y="560" font-size="19.5" fill="#1a1a1a" style='font-family:"Liberation Serif", serif' textLength="92.50" lengthAdjust="spacingAndGlyphs">RXDX-107.</text>
</svg>
</body></html>
